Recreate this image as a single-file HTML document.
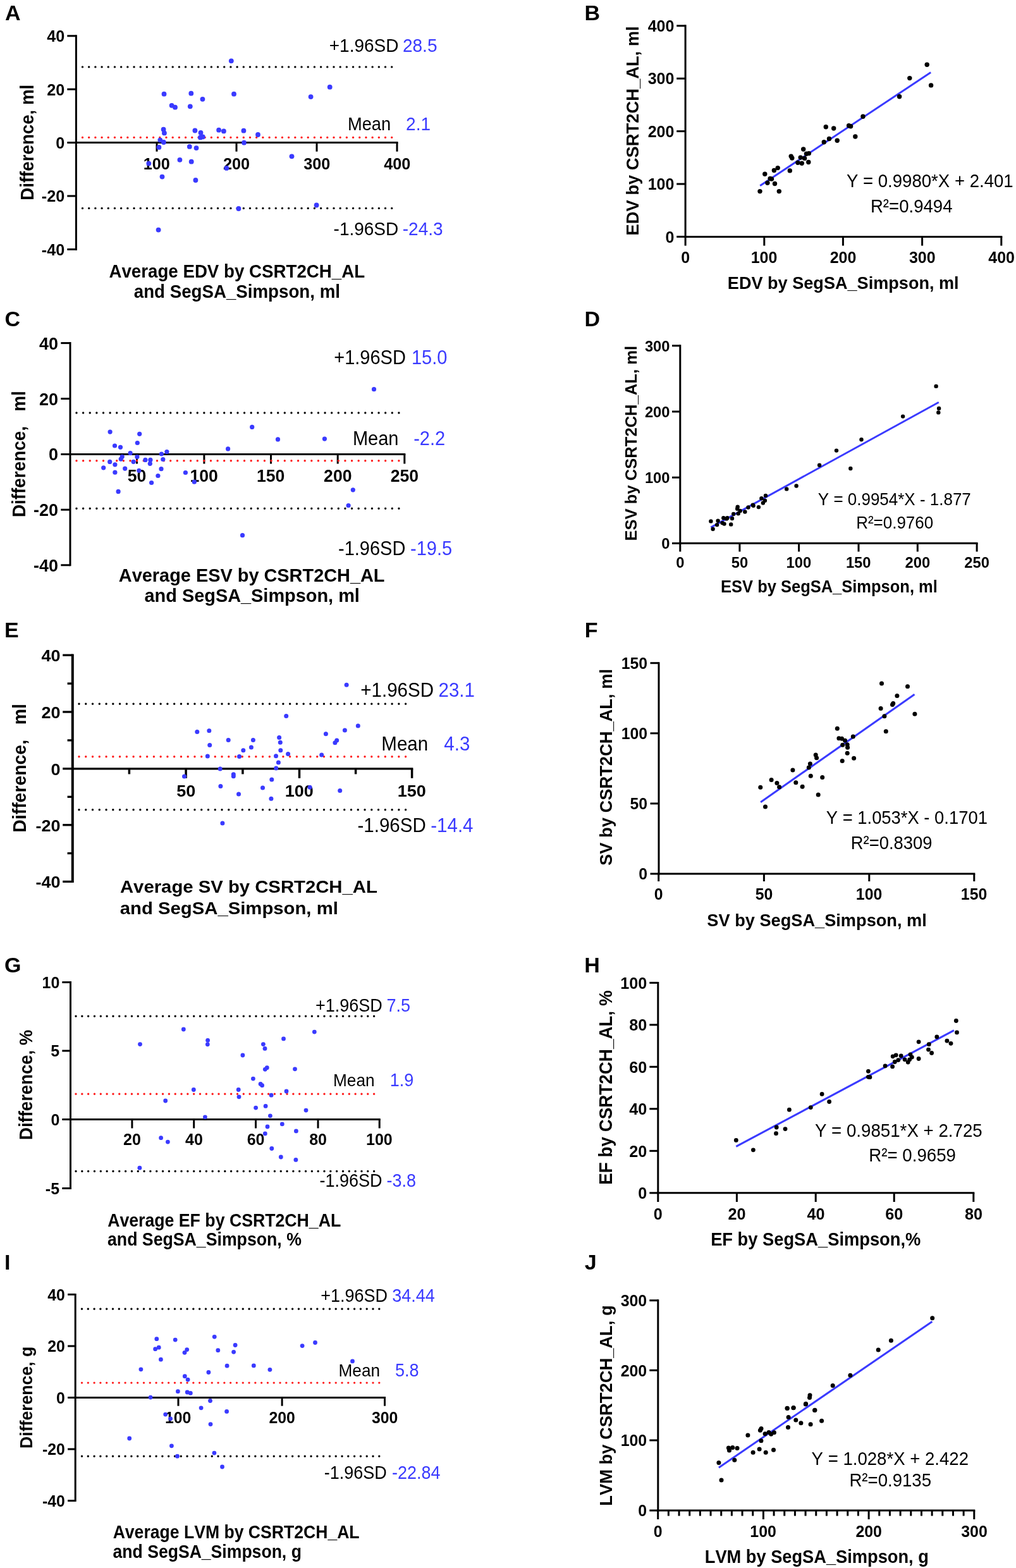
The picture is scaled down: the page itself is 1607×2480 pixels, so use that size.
<!DOCTYPE html>
<html><head><meta charset="utf-8"><title>Bland-Altman and regression plots</title>
<style>html,body{margin:0;padding:0;background:#fff;width:1607px;height:2480px;overflow:hidden}svg{display:block}text{font-kerning:none;white-space:pre}</style>
</head><body>
<svg width="1607" height="2480" viewBox="0 0 1607 2480" font-family="Liberation Sans, Arial, Helvetica, sans-serif">
<rect width="1607" height="2480" fill="#fff"/>
<text x="7.95" y="31.80" font-size="34" font-weight="bold" text-anchor="start" fill="#000">A</text>
<line x1="106.30" y1="56.80" x2="120.40" y2="56.80" stroke="#000" stroke-width="3" stroke-linecap="butt"/>
<text x="102.23" y="66.12" font-size="25.2" font-weight="bold" text-anchor="end" fill="#000" transform="matrix(1 0 0 1.0100 0 -0.661)">40</text>
<line x1="106.30" y1="141.20" x2="120.40" y2="141.20" stroke="#000" stroke-width="3" stroke-linecap="butt"/>
<text x="102.23" y="150.52" font-size="25.2" font-weight="bold" text-anchor="end" fill="#000" transform="matrix(1 0 0 1.0100 0 -1.505)">20</text>
<line x1="106.30" y1="225.60" x2="120.40" y2="225.60" stroke="#000" stroke-width="3" stroke-linecap="butt"/>
<text x="102.23" y="234.92" font-size="25.2" font-weight="bold" text-anchor="end" fill="#000" transform="matrix(1 0 0 1.0100 0 -2.349)">0</text>
<line x1="106.30" y1="310.00" x2="120.40" y2="310.00" stroke="#000" stroke-width="3" stroke-linecap="butt"/>
<text x="102.23" y="319.32" font-size="25.2" font-weight="bold" text-anchor="end" fill="#000" transform="matrix(1 0 0 1.0100 0 -3.193)">-20</text>
<line x1="106.30" y1="394.40" x2="120.40" y2="394.40" stroke="#000" stroke-width="3" stroke-linecap="butt"/>
<text x="102.23" y="403.72" font-size="25.2" font-weight="bold" text-anchor="end" fill="#000" transform="matrix(1 0 0 1.0100 0 -4.037)">-40</text>
<line x1="120.40" y1="55.30" x2="120.40" y2="395.90" stroke="#000" stroke-width="3" stroke-linecap="butt"/>
<line x1="118.90" y1="225.60" x2="629.50" y2="225.60" stroke="#000" stroke-width="3" stroke-linecap="butt"/>
<line x1="248.00" y1="225.60" x2="248.00" y2="239.70" stroke="#000" stroke-width="3" stroke-linecap="butt"/>
<text x="247.72" y="268.20" font-size="25.2" font-weight="bold" text-anchor="middle" fill="#000" transform="matrix(1 0 0 1.0100 0 -2.682)">100</text>
<line x1="374.00" y1="225.60" x2="374.00" y2="239.70" stroke="#000" stroke-width="3" stroke-linecap="butt"/>
<text x="374.08" y="268.20" font-size="25.2" font-weight="bold" text-anchor="middle" fill="#000" transform="matrix(1 0 0 1.0100 0 -2.682)">200</text>
<line x1="501.00" y1="225.60" x2="501.00" y2="239.70" stroke="#000" stroke-width="3" stroke-linecap="butt"/>
<text x="501.23" y="268.20" font-size="25.2" font-weight="bold" text-anchor="middle" fill="#000" transform="matrix(1 0 0 1.0100 0 -2.682)">300</text>
<line x1="628.00" y1="225.60" x2="628.00" y2="239.70" stroke="#000" stroke-width="3" stroke-linecap="butt"/>
<text x="628.33" y="268.20" font-size="25.2" font-weight="bold" text-anchor="middle" fill="#000" transform="matrix(1 0 0 1.0100 0 -2.682)">400</text>
<path d="M130.50 105.90h0M140.69 105.90h0M150.88 105.90h0M161.07 105.90h0M171.27 105.90h0M181.46 105.90h0M191.65 105.90h0M201.84 105.90h0M212.03 105.90h0M222.23 105.90h0M232.42 105.90h0M242.61 105.90h0M252.80 105.90h0M262.99 105.90h0M273.18 105.90h0M283.38 105.90h0M293.57 105.90h0M303.76 105.90h0M313.95 105.90h0M324.14 105.90h0M334.33 105.90h0M344.53 105.90h0M354.72 105.90h0M364.91 105.90h0M375.10 105.90h0M385.29 105.90h0M395.48 105.90h0M405.68 105.90h0M415.87 105.90h0M426.06 105.90h0M436.25 105.90h0M446.44 105.90h0M456.63 105.90h0M466.83 105.90h0M477.02 105.90h0M487.21 105.90h0M497.40 105.90h0M507.59 105.90h0M517.78 105.90h0M527.98 105.90h0M538.17 105.90h0M548.36 105.90h0M558.55 105.90h0M568.74 105.90h0M578.93 105.90h0M589.12 105.90h0M599.32 105.90h0M609.51 105.90h0M619.70 105.90h0" stroke="#000" stroke-width="3.4" stroke-linecap="round" fill="none"/>
<path d="M130.50 217.40h0M140.69 217.40h0M150.88 217.40h0M161.07 217.40h0M171.27 217.40h0M181.46 217.40h0M191.65 217.40h0M201.84 217.40h0M212.03 217.40h0M222.23 217.40h0M232.42 217.40h0M242.61 217.40h0M252.80 217.40h0M262.99 217.40h0M273.18 217.40h0M283.38 217.40h0M293.57 217.40h0M303.76 217.40h0M313.95 217.40h0M324.14 217.40h0M334.33 217.40h0M344.53 217.40h0M354.72 217.40h0M364.91 217.40h0M375.10 217.40h0M385.29 217.40h0M395.48 217.40h0M405.68 217.40h0M415.87 217.40h0M426.06 217.40h0M436.25 217.40h0M446.44 217.40h0M456.63 217.40h0M466.83 217.40h0M477.02 217.40h0M487.21 217.40h0M497.40 217.40h0M507.59 217.40h0M517.78 217.40h0M527.98 217.40h0M538.17 217.40h0M548.36 217.40h0M558.55 217.40h0M568.74 217.40h0M578.93 217.40h0M589.12 217.40h0M599.32 217.40h0M609.51 217.40h0M619.70 217.40h0" stroke="#ff1a1a" stroke-width="3.4" stroke-linecap="round" fill="none"/>
<path d="M130.50 329.40h0M140.69 329.40h0M150.88 329.40h0M161.07 329.40h0M171.27 329.40h0M181.46 329.40h0M191.65 329.40h0M201.84 329.40h0M212.03 329.40h0M222.23 329.40h0M232.42 329.40h0M242.61 329.40h0M252.80 329.40h0M262.99 329.40h0M273.18 329.40h0M283.38 329.40h0M293.57 329.40h0M303.76 329.40h0M313.95 329.40h0M324.14 329.40h0M334.33 329.40h0M344.53 329.40h0M354.72 329.40h0M364.91 329.40h0M375.10 329.40h0M385.29 329.40h0M395.48 329.40h0M405.68 329.40h0M415.87 329.40h0M426.06 329.40h0M436.25 329.40h0M446.44 329.40h0M456.63 329.40h0M466.83 329.40h0M477.02 329.40h0M487.21 329.40h0M497.40 329.40h0M507.59 329.40h0M517.78 329.40h0M527.98 329.40h0M538.17 329.40h0M548.36 329.40h0M558.55 329.40h0M568.74 329.40h0M578.93 329.40h0M589.12 329.40h0M599.32 329.40h0M609.51 329.40h0M619.70 329.40h0" stroke="#000" stroke-width="3.4" stroke-linecap="round" fill="none"/>
<text x="520.73" y="82.30" font-size="28" text-anchor="start" fill="#000" transform="matrix(1 0 0 1.0850 0 -6.995)">+1.96SD</text>
<text x="636.99" y="82.30" font-size="28" text-anchor="start" fill="#3a3aff" transform="matrix(1 0 0 1.0850 0 -6.995)">28.5</text>
<text x="549.96" y="205.70" font-size="27.3" text-anchor="start" fill="#000" transform="matrix(1 0 0 1.0850 0 -17.484)">Mean</text>
<text x="642.09" y="205.70" font-size="28" text-anchor="start" fill="#3a3aff" transform="matrix(1 0 0 1.0850 0 -17.484)">2.1</text>
<text x="527.56" y="372.50" font-size="28" text-anchor="start" fill="#000" transform="matrix(1 0 0 1.0850 0 -31.662)">-1.96SD</text>
<text x="636.76" y="372.50" font-size="28" text-anchor="start" fill="#3a3aff" transform="matrix(1 0 0 1.0850 0 -31.662)">-24.3</text>
<text x="374.78" y="438.70" font-size="27.7" font-weight="bold" text-anchor="middle" fill="#000" transform="matrix(1 0 0 1.0850 0 -37.289)">Average EDV by CSRT2CH_AL</text>
<text x="374.87" y="470.90" font-size="27.7" font-weight="bold" text-anchor="middle" fill="#000" transform="matrix(1 0 0 1.0850 0 -40.026)">and SegSA_Simpson, ml</text>
<text x="53.40" y="225.25" font-size="27.7" font-weight="bold" text-anchor="middle" fill="#000" transform="rotate(-90 53.40 225.25) matrix(1 0 0 1.0700 0 -15.767)">Difference, ml</text>
<circle cx="365.80" cy="96.30" r="3.9" fill="#3a3aff"/>
<circle cx="259.50" cy="148.70" r="3.9" fill="#3a3aff"/>
<circle cx="302.30" cy="147.70" r="3.9" fill="#3a3aff"/>
<circle cx="370.00" cy="148.70" r="3.9" fill="#3a3aff"/>
<circle cx="320.40" cy="156.80" r="3.9" fill="#3a3aff"/>
<circle cx="271.60" cy="166.80" r="3.9" fill="#3a3aff"/>
<circle cx="277.00" cy="169.70" r="3.9" fill="#3a3aff"/>
<circle cx="300.80" cy="168.30" r="3.9" fill="#3a3aff"/>
<circle cx="258.60" cy="204.70" r="3.9" fill="#3a3aff"/>
<circle cx="259.90" cy="210.40" r="3.9" fill="#3a3aff"/>
<circle cx="308.40" cy="206.50" r="3.9" fill="#3a3aff"/>
<circle cx="317.50" cy="210.00" r="3.9" fill="#3a3aff"/>
<circle cx="346.10" cy="205.70" r="3.9" fill="#3a3aff"/>
<circle cx="353.90" cy="207.40" r="3.9" fill="#3a3aff"/>
<circle cx="385.40" cy="206.70" r="3.9" fill="#3a3aff"/>
<circle cx="316.90" cy="217.40" r="3.9" fill="#3a3aff"/>
<circle cx="320.80" cy="216.40" r="3.9" fill="#3a3aff"/>
<circle cx="253.30" cy="221.60" r="3.9" fill="#3a3aff"/>
<circle cx="258.90" cy="225.00" r="3.9" fill="#3a3aff"/>
<circle cx="386.00" cy="225.70" r="3.9" fill="#3a3aff"/>
<circle cx="251.40" cy="232.90" r="3.9" fill="#3a3aff"/>
<circle cx="299.80" cy="231.90" r="3.9" fill="#3a3aff"/>
<circle cx="310.50" cy="234.10" r="3.9" fill="#3a3aff"/>
<circle cx="284.40" cy="252.80" r="3.9" fill="#3a3aff"/>
<circle cx="302.70" cy="255.70" r="3.9" fill="#3a3aff"/>
<circle cx="521.70" cy="137.70" r="3.9" fill="#3a3aff"/>
<circle cx="491.60" cy="153.10" r="3.9" fill="#3a3aff"/>
<circle cx="408.00" cy="213.00" r="3.9" fill="#3a3aff"/>
<circle cx="461.50" cy="247.30" r="3.9" fill="#3a3aff"/>
<circle cx="500.60" cy="324.50" r="3.9" fill="#3a3aff"/>
<circle cx="235.30" cy="258.60" r="3.9" fill="#3a3aff"/>
<circle cx="358.30" cy="265.90" r="3.9" fill="#3a3aff"/>
<circle cx="256.50" cy="279.60" r="3.9" fill="#3a3aff"/>
<circle cx="309.40" cy="285.00" r="3.9" fill="#3a3aff"/>
<circle cx="377.40" cy="330.00" r="3.9" fill="#3a3aff"/>
<circle cx="250.60" cy="363.60" r="3.9" fill="#3a3aff"/>
<text x="924.53" y="31.70" font-size="34" font-weight="bold" text-anchor="start" fill="#000">B</text>
<line x1="1070.20" y1="374.40" x2="1084.10" y2="374.40" stroke="#000" stroke-width="3" stroke-linecap="butt"/>
<text x="1066.33" y="383.65" font-size="25" font-weight="bold" text-anchor="end" fill="#000" transform="matrix(1 0 0 1.0300 0 -11.510)">0</text>
<line x1="1070.20" y1="291.00" x2="1084.10" y2="291.00" stroke="#000" stroke-width="3" stroke-linecap="butt"/>
<text x="1066.33" y="300.25" font-size="25" font-weight="bold" text-anchor="end" fill="#000" transform="matrix(1 0 0 1.0300 0 -9.008)">100</text>
<line x1="1070.20" y1="207.60" x2="1084.10" y2="207.60" stroke="#000" stroke-width="3" stroke-linecap="butt"/>
<text x="1066.33" y="216.85" font-size="25" font-weight="bold" text-anchor="end" fill="#000" transform="matrix(1 0 0 1.0300 0 -6.506)">200</text>
<line x1="1070.20" y1="124.20" x2="1084.10" y2="124.20" stroke="#000" stroke-width="3" stroke-linecap="butt"/>
<text x="1066.33" y="133.45" font-size="25" font-weight="bold" text-anchor="end" fill="#000" transform="matrix(1 0 0 1.0300 0 -4.004)">300</text>
<line x1="1070.20" y1="40.80" x2="1084.10" y2="40.80" stroke="#000" stroke-width="3" stroke-linecap="butt"/>
<text x="1066.33" y="50.05" font-size="25" font-weight="bold" text-anchor="end" fill="#000" transform="matrix(1 0 0 1.0300 0 -1.502)">400</text>
<line x1="1084.10" y1="39.30" x2="1084.10" y2="375.90" stroke="#000" stroke-width="3" stroke-linecap="butt"/>
<line x1="1082.60" y1="374.40" x2="1585.30" y2="374.40" stroke="#000" stroke-width="3" stroke-linecap="butt"/>
<line x1="1084.10" y1="374.40" x2="1084.10" y2="388.60" stroke="#000" stroke-width="3" stroke-linecap="butt"/>
<text x="1084.12" y="415.60" font-size="25" font-weight="bold" text-anchor="middle" fill="#000" transform="matrix(1 0 0 1.0300 0 -12.468)">0</text>
<line x1="1208.80" y1="374.40" x2="1208.80" y2="388.60" stroke="#000" stroke-width="3" stroke-linecap="butt"/>
<text x="1208.53" y="415.60" font-size="25" font-weight="bold" text-anchor="middle" fill="#000" transform="matrix(1 0 0 1.0300 0 -12.468)">100</text>
<line x1="1333.40" y1="374.40" x2="1333.40" y2="388.60" stroke="#000" stroke-width="3" stroke-linecap="butt"/>
<text x="1333.48" y="415.60" font-size="25" font-weight="bold" text-anchor="middle" fill="#000" transform="matrix(1 0 0 1.0300 0 -12.468)">200</text>
<line x1="1458.60" y1="374.40" x2="1458.60" y2="388.60" stroke="#000" stroke-width="3" stroke-linecap="butt"/>
<text x="1458.83" y="415.60" font-size="25" font-weight="bold" text-anchor="middle" fill="#000" transform="matrix(1 0 0 1.0300 0 -12.468)">300</text>
<line x1="1583.80" y1="374.40" x2="1583.80" y2="388.60" stroke="#000" stroke-width="3" stroke-linecap="butt"/>
<text x="1584.12" y="415.60" font-size="25" font-weight="bold" text-anchor="middle" fill="#000" transform="matrix(1 0 0 1.0300 0 -12.468)">400</text>
<text x="1333.75" y="456.80" font-size="27.1" font-weight="bold" text-anchor="middle" fill="#000" transform="matrix(1 0 0 1.0470 0 -21.470)">EDV by SegSA_Simpson, ml</text>
<text x="1009.90" y="206.85" font-size="27.35" font-weight="bold" text-anchor="middle" fill="#000" transform="rotate(-90 1009.90 206.85) matrix(1 0 0 1.0400 0 -8.274)">EDV by CSRT2CH_AL, ml</text>
<line x1="1202.20" y1="293.80" x2="1472.20" y2="114.60" stroke="#3a3aff" stroke-width="3" stroke-linecap="butt"/>
<circle cx="1202.00" cy="302.60" r="3.7" fill="#000"/>
<circle cx="1232.30" cy="302.60" r="3.7" fill="#000"/>
<circle cx="1213.90" cy="289.30" r="3.7" fill="#000"/>
<circle cx="1225.50" cy="290.50" r="3.7" fill="#000"/>
<circle cx="1218.10" cy="282.50" r="3.7" fill="#000"/>
<circle cx="1220.50" cy="283.10" r="3.7" fill="#000"/>
<circle cx="1209.80" cy="275.30" r="3.7" fill="#000"/>
<circle cx="1224.40" cy="269.50" r="3.7" fill="#000"/>
<circle cx="1230.20" cy="265.60" r="3.7" fill="#000"/>
<circle cx="1249.30" cy="269.90" r="3.7" fill="#000"/>
<circle cx="1251.20" cy="247.10" r="3.7" fill="#000"/>
<circle cx="1252.80" cy="250.00" r="3.7" fill="#000"/>
<circle cx="1261.90" cy="257.20" r="3.7" fill="#000"/>
<circle cx="1268.30" cy="258.20" r="3.7" fill="#000"/>
<circle cx="1266.20" cy="249.10" r="3.7" fill="#000"/>
<circle cx="1272.60" cy="250.40" r="3.7" fill="#000"/>
<circle cx="1278.80" cy="256.50" r="3.7" fill="#000"/>
<circle cx="1275.50" cy="243.20" r="3.7" fill="#000"/>
<circle cx="1279.40" cy="242.60" r="3.7" fill="#000"/>
<circle cx="1270.70" cy="236.00" r="3.7" fill="#000"/>
<circle cx="1303.30" cy="224.70" r="3.7" fill="#000"/>
<circle cx="1311.50" cy="219.50" r="3.7" fill="#000"/>
<circle cx="1324.20" cy="222.20" r="3.7" fill="#000"/>
<circle cx="1306.30" cy="200.80" r="3.7" fill="#000"/>
<circle cx="1318.70" cy="203.00" r="3.7" fill="#000"/>
<circle cx="1342.60" cy="198.70" r="3.7" fill="#000"/>
<circle cx="1345.60" cy="199.80" r="3.7" fill="#000"/>
<circle cx="1352.80" cy="216.00" r="3.7" fill="#000"/>
<circle cx="1365.00" cy="184.30" r="3.7" fill="#000"/>
<circle cx="1466.20" cy="102.30" r="3.7" fill="#000"/>
<circle cx="1438.80" cy="123.60" r="3.7" fill="#000"/>
<circle cx="1472.60" cy="134.90" r="3.7" fill="#000"/>
<circle cx="1422.60" cy="152.80" r="3.7" fill="#000"/>
<text x="1338.89" y="296.10" font-size="27.6" text-anchor="start" fill="#000" transform="matrix(1 0 0 1.0850 0 -25.168)">Y = 0.9980*X + 2.401</text>
<text x="1376.94" y="335.80" font-size="27.6" text-anchor="start" fill="#000" transform="matrix(1 0 0 1.0850 0 -28.543)">R²=0.9494</text>
<text x="7.41" y="516.00" font-size="34" font-weight="bold" text-anchor="start" fill="#000">C</text>
<line x1="96.30" y1="542.60" x2="111.00" y2="542.60" stroke="#000" stroke-width="3" stroke-linecap="butt"/>
<text x="92.11" y="552.57" font-size="27" font-weight="bold" text-anchor="end" fill="#000" transform="matrix(1 0 0 1.0200 0 -11.051)">40</text>
<line x1="96.30" y1="630.60" x2="111.00" y2="630.60" stroke="#000" stroke-width="3" stroke-linecap="butt"/>
<text x="92.11" y="640.57" font-size="27" font-weight="bold" text-anchor="end" fill="#000" transform="matrix(1 0 0 1.0200 0 -12.811)">20</text>
<line x1="96.30" y1="718.50" x2="111.00" y2="718.50" stroke="#000" stroke-width="3" stroke-linecap="butt"/>
<text x="92.11" y="728.47" font-size="27" font-weight="bold" text-anchor="end" fill="#000" transform="matrix(1 0 0 1.0200 0 -14.569)">0</text>
<line x1="96.30" y1="806.20" x2="111.00" y2="806.20" stroke="#000" stroke-width="3" stroke-linecap="butt"/>
<text x="92.11" y="816.17" font-size="27" font-weight="bold" text-anchor="end" fill="#000" transform="matrix(1 0 0 1.0200 0 -16.323)">-20</text>
<line x1="96.30" y1="893.80" x2="111.00" y2="893.80" stroke="#000" stroke-width="3" stroke-linecap="butt"/>
<text x="92.11" y="903.77" font-size="27" font-weight="bold" text-anchor="end" fill="#000" transform="matrix(1 0 0 1.0200 0 -18.075)">-40</text>
<line x1="111.00" y1="541.10" x2="111.00" y2="895.30" stroke="#000" stroke-width="3" stroke-linecap="butt"/>
<line x1="109.50" y1="718.50" x2="641.30" y2="718.50" stroke="#000" stroke-width="3" stroke-linecap="butt"/>
<line x1="216.50" y1="718.50" x2="216.50" y2="733.50" stroke="#000" stroke-width="3" stroke-linecap="butt"/>
<text x="216.64" y="762.50" font-size="26.6" font-weight="bold" text-anchor="middle" fill="#000" transform="matrix(1 0 0 1.0200 0 -15.250)">50</text>
<line x1="322.90" y1="718.50" x2="322.90" y2="733.50" stroke="#000" stroke-width="3" stroke-linecap="butt"/>
<text x="322.61" y="762.50" font-size="26.6" font-weight="bold" text-anchor="middle" fill="#000" transform="matrix(1 0 0 1.0200 0 -15.250)">100</text>
<line x1="428.50" y1="718.50" x2="428.50" y2="733.50" stroke="#000" stroke-width="3" stroke-linecap="butt"/>
<text x="428.21" y="762.50" font-size="26.6" font-weight="bold" text-anchor="middle" fill="#000" transform="matrix(1 0 0 1.0200 0 -15.250)">150</text>
<line x1="534.20" y1="718.50" x2="534.20" y2="733.50" stroke="#000" stroke-width="3" stroke-linecap="butt"/>
<text x="534.28" y="762.50" font-size="26.6" font-weight="bold" text-anchor="middle" fill="#000" transform="matrix(1 0 0 1.0200 0 -15.250)">200</text>
<line x1="639.80" y1="718.50" x2="639.80" y2="733.50" stroke="#000" stroke-width="3" stroke-linecap="butt"/>
<text x="639.88" y="762.50" font-size="26.6" font-weight="bold" text-anchor="middle" fill="#000" transform="matrix(1 0 0 1.0200 0 -15.250)">250</text>
<path d="M121.00 653.00h0M131.62 653.00h0M142.25 653.00h0M152.87 653.00h0M163.49 653.00h0M174.11 653.00h0M184.74 653.00h0M195.36 653.00h0M205.98 653.00h0M216.61 653.00h0M227.23 653.00h0M237.85 653.00h0M248.47 653.00h0M259.10 653.00h0M269.72 653.00h0M280.34 653.00h0M290.97 653.00h0M301.59 653.00h0M312.21 653.00h0M322.84 653.00h0M333.46 653.00h0M344.08 653.00h0M354.70 653.00h0M365.33 653.00h0M375.95 653.00h0M386.57 653.00h0M397.20 653.00h0M407.82 653.00h0M418.44 653.00h0M429.06 653.00h0M439.69 653.00h0M450.31 653.00h0M460.93 653.00h0M471.56 653.00h0M482.18 653.00h0M492.80 653.00h0M503.43 653.00h0M514.05 653.00h0M524.67 653.00h0M535.29 653.00h0M545.92 653.00h0M556.54 653.00h0M567.16 653.00h0M577.79 653.00h0M588.41 653.00h0M599.03 653.00h0M609.65 653.00h0M620.28 653.00h0M630.90 653.00h0" stroke="#000" stroke-width="3.4" stroke-linecap="round" fill="none"/>
<path d="M121.00 728.80h0M131.62 728.80h0M142.25 728.80h0M152.87 728.80h0M163.49 728.80h0M174.11 728.80h0M184.74 728.80h0M195.36 728.80h0M205.98 728.80h0M216.61 728.80h0M227.23 728.80h0M237.85 728.80h0M248.47 728.80h0M259.10 728.80h0M269.72 728.80h0M280.34 728.80h0M290.97 728.80h0M301.59 728.80h0M312.21 728.80h0M322.84 728.80h0M333.46 728.80h0M344.08 728.80h0M354.70 728.80h0M365.33 728.80h0M375.95 728.80h0M386.57 728.80h0M397.20 728.80h0M407.82 728.80h0M418.44 728.80h0M429.06 728.80h0M439.69 728.80h0M450.31 728.80h0M460.93 728.80h0M471.56 728.80h0M482.18 728.80h0M492.80 728.80h0M503.43 728.80h0M514.05 728.80h0M524.67 728.80h0M535.29 728.80h0M545.92 728.80h0M556.54 728.80h0M567.16 728.80h0M577.79 728.80h0M588.41 728.80h0M599.03 728.80h0M609.65 728.80h0M620.28 728.80h0M630.90 728.80h0" stroke="#ff1a1a" stroke-width="3.4" stroke-linecap="round" fill="none"/>
<path d="M121.00 804.30h0M131.62 804.30h0M142.25 804.30h0M152.87 804.30h0M163.49 804.30h0M174.11 804.30h0M184.74 804.30h0M195.36 804.30h0M205.98 804.30h0M216.61 804.30h0M227.23 804.30h0M237.85 804.30h0M248.47 804.30h0M259.10 804.30h0M269.72 804.30h0M280.34 804.30h0M290.97 804.30h0M301.59 804.30h0M312.21 804.30h0M322.84 804.30h0M333.46 804.30h0M344.08 804.30h0M354.70 804.30h0M365.33 804.30h0M375.95 804.30h0M386.57 804.30h0M397.20 804.30h0M407.82 804.30h0M418.44 804.30h0M429.06 804.30h0M439.69 804.30h0M450.31 804.30h0M460.93 804.30h0M471.56 804.30h0M482.18 804.30h0M492.80 804.30h0M503.43 804.30h0M514.05 804.30h0M524.67 804.30h0M535.29 804.30h0M545.92 804.30h0M556.54 804.30h0M567.16 804.30h0M577.79 804.30h0M588.41 804.30h0M599.03 804.30h0M609.65 804.30h0M620.28 804.30h0M630.90 804.30h0" stroke="#000" stroke-width="3.4" stroke-linecap="round" fill="none"/>
<text x="528.28" y="576.50" font-size="29" text-anchor="start" fill="#000" transform="matrix(1 0 0 1.0500 0 -28.825)">+1.96SD</text>
<text x="650.89" y="576.50" font-size="29" text-anchor="start" fill="#3a3aff" transform="matrix(1 0 0 1.0500 0 -28.825)">15.0</text>
<text x="557.92" y="704.40" font-size="29" text-anchor="start" fill="#000" transform="matrix(1 0 0 1.0500 0 -35.220)">Mean</text>
<text x="654.21" y="704.40" font-size="29" text-anchor="start" fill="#3a3aff" transform="matrix(1 0 0 1.0500 0 -35.220)">-2.2</text>
<text x="535.01" y="877.60" font-size="29" text-anchor="start" fill="#000" transform="matrix(1 0 0 1.0500 0 -43.880)">-1.96SD</text>
<text x="649.01" y="877.60" font-size="29" text-anchor="start" fill="#3a3aff" transform="matrix(1 0 0 1.0500 0 -43.880)">-19.5</text>
<text x="398.18" y="919.90" font-size="28.9" font-weight="bold" text-anchor="middle" fill="#000" transform="matrix(1 0 0 1.0500 0 -45.995)">Average ESV by CSRT2CH_AL</text>
<text x="398.70" y="952.40" font-size="28.9" font-weight="bold" text-anchor="middle" fill="#000" transform="matrix(1 0 0 1.0500 0 -47.620)">and SegSA_Simpson, ml</text>
<text x="40.00" y="718.15" font-size="27.9" font-weight="bold" text-anchor="middle" fill="#000" transform="rotate(-90 40.00 718.15) matrix(1 0 0 1.0400 0 -28.726)">Difference,   ml</text>
<circle cx="174.10" cy="683.10" r="3.6" fill="#3a3aff"/>
<circle cx="220.70" cy="686.30" r="3.6" fill="#3a3aff"/>
<circle cx="217.30" cy="700.50" r="3.6" fill="#3a3aff"/>
<circle cx="181.50" cy="705.00" r="3.6" fill="#3a3aff"/>
<circle cx="190.50" cy="707.30" r="3.6" fill="#3a3aff"/>
<circle cx="206.10" cy="716.70" r="3.6" fill="#3a3aff"/>
<circle cx="263.90" cy="714.50" r="3.6" fill="#3a3aff"/>
<circle cx="255.40" cy="718.00" r="3.6" fill="#3a3aff"/>
<circle cx="193.20" cy="722.30" r="3.6" fill="#3a3aff"/>
<circle cx="191.20" cy="726.10" r="3.6" fill="#3a3aff"/>
<circle cx="216.90" cy="722.50" r="3.6" fill="#3a3aff"/>
<circle cx="211.10" cy="730.30" r="3.6" fill="#3a3aff"/>
<circle cx="173.70" cy="730.40" r="3.6" fill="#3a3aff"/>
<circle cx="181.90" cy="734.80" r="3.6" fill="#3a3aff"/>
<circle cx="229.90" cy="727.40" r="3.6" fill="#3a3aff"/>
<circle cx="237.90" cy="727.40" r="3.6" fill="#3a3aff"/>
<circle cx="237.30" cy="733.30" r="3.6" fill="#3a3aff"/>
<circle cx="257.80" cy="726.50" r="3.6" fill="#3a3aff"/>
<circle cx="163.70" cy="739.80" r="3.6" fill="#3a3aff"/>
<circle cx="197.70" cy="741.10" r="3.6" fill="#3a3aff"/>
<circle cx="219.80" cy="744.30" r="3.6" fill="#3a3aff"/>
<circle cx="255.00" cy="741.70" r="3.6" fill="#3a3aff"/>
<circle cx="181.90" cy="747.20" r="3.6" fill="#3a3aff"/>
<circle cx="249.90" cy="752.50" r="3.6" fill="#3a3aff"/>
<circle cx="239.60" cy="763.50" r="3.6" fill="#3a3aff"/>
<circle cx="187.10" cy="777.40" r="3.6" fill="#3a3aff"/>
<circle cx="293.40" cy="747.50" r="3.6" fill="#3a3aff"/>
<circle cx="307.30" cy="762.20" r="3.6" fill="#3a3aff"/>
<circle cx="591.50" cy="615.70" r="3.6" fill="#3a3aff"/>
<circle cx="398.70" cy="675.40" r="3.6" fill="#3a3aff"/>
<circle cx="439.50" cy="694.90" r="3.6" fill="#3a3aff"/>
<circle cx="513.40" cy="694.10" r="3.6" fill="#3a3aff"/>
<circle cx="360.60" cy="709.90" r="3.6" fill="#3a3aff"/>
<circle cx="558.30" cy="774.80" r="3.6" fill="#3a3aff"/>
<circle cx="551.10" cy="799.50" r="3.6" fill="#3a3aff"/>
<circle cx="383.50" cy="846.70" r="3.6" fill="#3a3aff"/>
<text x="924.53" y="516.00" font-size="34" font-weight="bold" text-anchor="start" fill="#000">D</text>
<line x1="1063.00" y1="859.30" x2="1075.80" y2="859.30" stroke="#000" stroke-width="3" stroke-linecap="butt"/>
<text x="1059.58" y="868.12" font-size="23.8" font-weight="bold" text-anchor="end" fill="#000" transform="matrix(1 0 0 1.0200 0 -17.362)">0</text>
<line x1="1063.00" y1="755.20" x2="1075.80" y2="755.20" stroke="#000" stroke-width="3" stroke-linecap="butt"/>
<text x="1059.58" y="764.02" font-size="23.8" font-weight="bold" text-anchor="end" fill="#000" transform="matrix(1 0 0 1.0200 0 -15.280)">100</text>
<line x1="1063.00" y1="651.00" x2="1075.80" y2="651.00" stroke="#000" stroke-width="3" stroke-linecap="butt"/>
<text x="1059.58" y="659.82" font-size="23.8" font-weight="bold" text-anchor="end" fill="#000" transform="matrix(1 0 0 1.0200 0 -13.196)">200</text>
<line x1="1063.00" y1="546.80" x2="1075.80" y2="546.80" stroke="#000" stroke-width="3" stroke-linecap="butt"/>
<text x="1059.58" y="555.62" font-size="23.8" font-weight="bold" text-anchor="end" fill="#000" transform="matrix(1 0 0 1.0200 0 -11.112)">300</text>
<line x1="1075.80" y1="545.30" x2="1075.80" y2="860.80" stroke="#000" stroke-width="3" stroke-linecap="butt"/>
<line x1="1074.30" y1="859.30" x2="1546.60" y2="859.30" stroke="#000" stroke-width="3" stroke-linecap="butt"/>
<line x1="1075.80" y1="859.30" x2="1075.80" y2="872.50" stroke="#000" stroke-width="3" stroke-linecap="butt"/>
<text x="1075.82" y="898.50" font-size="23.8" font-weight="bold" text-anchor="middle" fill="#000" transform="matrix(1 0 0 1.0200 0 -17.970)">0</text>
<line x1="1169.90" y1="859.30" x2="1169.90" y2="872.50" stroke="#000" stroke-width="3" stroke-linecap="butt"/>
<text x="1170.02" y="898.50" font-size="23.8" font-weight="bold" text-anchor="middle" fill="#000" transform="matrix(1 0 0 1.0200 0 -17.970)">50</text>
<line x1="1263.60" y1="859.30" x2="1263.60" y2="872.50" stroke="#000" stroke-width="3" stroke-linecap="butt"/>
<text x="1263.34" y="898.50" font-size="23.8" font-weight="bold" text-anchor="middle" fill="#000" transform="matrix(1 0 0 1.0200 0 -17.970)">100</text>
<line x1="1358.00" y1="859.30" x2="1358.00" y2="872.50" stroke="#000" stroke-width="3" stroke-linecap="butt"/>
<text x="1357.74" y="898.50" font-size="23.8" font-weight="bold" text-anchor="middle" fill="#000" transform="matrix(1 0 0 1.0200 0 -17.970)">150</text>
<line x1="1451.30" y1="859.30" x2="1451.30" y2="872.50" stroke="#000" stroke-width="3" stroke-linecap="butt"/>
<text x="1451.38" y="898.50" font-size="23.8" font-weight="bold" text-anchor="middle" fill="#000" transform="matrix(1 0 0 1.0200 0 -17.970)">200</text>
<line x1="1545.10" y1="859.30" x2="1545.10" y2="872.50" stroke="#000" stroke-width="3" stroke-linecap="butt"/>
<text x="1545.18" y="898.50" font-size="23.8" font-weight="bold" text-anchor="middle" fill="#000" transform="matrix(1 0 0 1.0200 0 -17.970)">250</text>
<text x="1311.45" y="937.20" font-size="25.5" font-weight="bold" text-anchor="middle" fill="#000" transform="matrix(1 0 0 1.0700 0 -65.604)">ESV by SegSA_Simpson, ml</text>
<text x="1007.00" y="701.25" font-size="25.6" font-weight="bold" text-anchor="middle" fill="#000" transform="rotate(-90 1007.00 701.25) matrix(1 0 0 1.0400 0 -28.050)">ESV by CSRT2CH_AL, ml</text>
<line x1="1124.40" y1="834.10" x2="1484.80" y2="636.20" stroke="#3a3aff" stroke-width="3" stroke-linecap="butt"/>
<circle cx="1124.40" cy="824.40" r="3.2" fill="#000"/>
<circle cx="1127.60" cy="836.80" r="3.2" fill="#000"/>
<circle cx="1135.60" cy="823.70" r="3.2" fill="#000"/>
<circle cx="1134.10" cy="830.10" r="3.2" fill="#000"/>
<circle cx="1142.50" cy="827.10" r="3.2" fill="#000"/>
<circle cx="1145.50" cy="828.60" r="3.2" fill="#000"/>
<circle cx="1144.30" cy="819.20" r="3.2" fill="#000"/>
<circle cx="1149.20" cy="820.40" r="3.2" fill="#000"/>
<circle cx="1150.40" cy="819.20" r="3.2" fill="#000"/>
<circle cx="1156.20" cy="829.40" r="3.2" fill="#000"/>
<circle cx="1158.00" cy="820.00" r="3.2" fill="#000"/>
<circle cx="1160.20" cy="813.00" r="3.2" fill="#000"/>
<circle cx="1166.70" cy="801.80" r="3.2" fill="#000"/>
<circle cx="1166.20" cy="804.70" r="3.2" fill="#000"/>
<circle cx="1167.70" cy="812.20" r="3.2" fill="#000"/>
<circle cx="1170.70" cy="808.00" r="3.2" fill="#000"/>
<circle cx="1178.30" cy="809.50" r="3.2" fill="#000"/>
<circle cx="1183.50" cy="802.50" r="3.2" fill="#000"/>
<circle cx="1190.80" cy="798.80" r="3.2" fill="#000"/>
<circle cx="1191.60" cy="799.80" r="3.2" fill="#000"/>
<circle cx="1199.90" cy="802.10" r="3.2" fill="#000"/>
<circle cx="1204.40" cy="788.30" r="3.2" fill="#000"/>
<circle cx="1211.00" cy="783.90" r="3.2" fill="#000"/>
<circle cx="1209.90" cy="791.80" r="3.2" fill="#000"/>
<circle cx="1206.90" cy="795.50" r="3.2" fill="#000"/>
<circle cx="1244.20" cy="773.40" r="3.2" fill="#000"/>
<circle cx="1259.60" cy="768.50" r="3.2" fill="#000"/>
<circle cx="1480.60" cy="610.90" r="3.2" fill="#000"/>
<circle cx="1485.10" cy="645.90" r="3.2" fill="#000"/>
<circle cx="1484.30" cy="652.40" r="3.2" fill="#000"/>
<circle cx="1428.10" cy="658.60" r="3.2" fill="#000"/>
<circle cx="1362.50" cy="695.20" r="3.2" fill="#000"/>
<circle cx="1323.00" cy="712.60" r="3.2" fill="#000"/>
<circle cx="1296.10" cy="735.70" r="3.2" fill="#000"/>
<circle cx="1345.30" cy="741.00" r="3.2" fill="#000"/>
<text x="1293.83" y="798.60" font-size="26" text-anchor="start" fill="#000" transform="matrix(1 0 0 1.0850 0 -67.881)">Y = 0.9954*X - 1.877</text>
<text x="1354.17" y="836.30" font-size="26" text-anchor="start" fill="#000" transform="matrix(1 0 0 1.0850 0 -71.085)">R²=0.9760</text>
<text x="7.03" y="1008.20" font-size="34" font-weight="bold" text-anchor="start" fill="#000">E</text>
<line x1="99.20" y1="1036.20" x2="114.80" y2="1036.20" stroke="#000" stroke-width="3.3" stroke-linecap="butt"/>
<text x="95.51" y="1046.17" font-size="27" font-weight="bold" text-anchor="end" fill="#000" transform="matrix(1 0 0 0.9800 0 20.923)">40</text>
<line x1="99.20" y1="1126.00" x2="114.80" y2="1126.00" stroke="#000" stroke-width="3.3" stroke-linecap="butt"/>
<text x="95.51" y="1135.97" font-size="27" font-weight="bold" text-anchor="end" fill="#000" transform="matrix(1 0 0 0.9800 0 22.719)">20</text>
<line x1="99.20" y1="1215.80" x2="114.80" y2="1215.80" stroke="#000" stroke-width="3.3" stroke-linecap="butt"/>
<text x="95.51" y="1225.77" font-size="27" font-weight="bold" text-anchor="end" fill="#000" transform="matrix(1 0 0 0.9800 0 24.515)">0</text>
<line x1="99.20" y1="1304.80" x2="114.80" y2="1304.80" stroke="#000" stroke-width="3.3" stroke-linecap="butt"/>
<text x="95.51" y="1314.77" font-size="27" font-weight="bold" text-anchor="end" fill="#000" transform="matrix(1 0 0 0.9800 0 26.295)">-20</text>
<line x1="99.20" y1="1394.40" x2="114.80" y2="1394.40" stroke="#000" stroke-width="3.3" stroke-linecap="butt"/>
<text x="95.51" y="1404.37" font-size="27" font-weight="bold" text-anchor="end" fill="#000" transform="matrix(1 0 0 0.9800 0 28.087)">-40</text>
<line x1="106.60" y1="1081.10" x2="114.80" y2="1081.10" stroke="#000" stroke-width="3.3" stroke-linecap="butt"/>
<line x1="106.60" y1="1170.90" x2="114.80" y2="1170.90" stroke="#000" stroke-width="3.3" stroke-linecap="butt"/>
<line x1="106.60" y1="1260.30" x2="114.80" y2="1260.30" stroke="#000" stroke-width="3.3" stroke-linecap="butt"/>
<line x1="106.60" y1="1349.60" x2="114.80" y2="1349.60" stroke="#000" stroke-width="3.3" stroke-linecap="butt"/>
<line x1="114.80" y1="1034.55" x2="114.80" y2="1396.05" stroke="#000" stroke-width="4" stroke-linecap="butt"/>
<line x1="113.20" y1="1215.80" x2="653.35" y2="1215.80" stroke="#000" stroke-width="3.2" stroke-linecap="butt"/>
<line x1="294.10" y1="1215.80" x2="294.10" y2="1230.80" stroke="#000" stroke-width="3.5" stroke-linecap="butt"/>
<text x="294.24" y="1260.20" font-size="27" font-weight="bold" text-anchor="middle" fill="#000" transform="matrix(1 0 0 0.9800 0 25.204)">50</text>
<line x1="473.50" y1="1215.80" x2="473.50" y2="1230.80" stroke="#000" stroke-width="3.5" stroke-linecap="butt"/>
<text x="473.20" y="1260.20" font-size="27" font-weight="bold" text-anchor="middle" fill="#000" transform="matrix(1 0 0 0.9800 0 25.204)">100</text>
<line x1="651.60" y1="1215.80" x2="651.60" y2="1230.80" stroke="#000" stroke-width="3.5" stroke-linecap="butt"/>
<text x="651.30" y="1260.20" font-size="27" font-weight="bold" text-anchor="middle" fill="#000" transform="matrix(1 0 0 0.9800 0 25.204)">150</text>
<line x1="204.40" y1="1215.80" x2="204.40" y2="1224.40" stroke="#000" stroke-width="3.5" stroke-linecap="butt"/>
<line x1="383.90" y1="1215.80" x2="383.90" y2="1224.40" stroke="#000" stroke-width="3.5" stroke-linecap="butt"/>
<line x1="562.60" y1="1215.80" x2="562.60" y2="1224.40" stroke="#000" stroke-width="3.5" stroke-linecap="butt"/>
<path d="M125.00 1113.20h0M135.76 1113.20h0M146.53 1113.20h0M157.29 1113.20h0M168.05 1113.20h0M178.81 1113.20h0M189.57 1113.20h0M200.34 1113.20h0M211.10 1113.20h0M221.86 1113.20h0M232.62 1113.20h0M243.39 1113.20h0M254.15 1113.20h0M264.91 1113.20h0M275.68 1113.20h0M286.44 1113.20h0M297.20 1113.20h0M307.96 1113.20h0M318.73 1113.20h0M329.49 1113.20h0M340.25 1113.20h0M351.01 1113.20h0M361.78 1113.20h0M372.54 1113.20h0M383.30 1113.20h0M394.06 1113.20h0M404.83 1113.20h0M415.59 1113.20h0M426.35 1113.20h0M437.11 1113.20h0M447.88 1113.20h0M458.64 1113.20h0M469.40 1113.20h0M480.16 1113.20h0M490.93 1113.20h0M501.69 1113.20h0M512.45 1113.20h0M523.21 1113.20h0M533.98 1113.20h0M544.74 1113.20h0M555.50 1113.20h0M566.26 1113.20h0M577.03 1113.20h0M587.79 1113.20h0M598.55 1113.20h0M609.31 1113.20h0M620.08 1113.20h0M630.84 1113.20h0M641.60 1113.20h0" stroke="#000" stroke-width="3.4" stroke-linecap="round" fill="none"/>
<path d="M125.00 1196.80h0M135.76 1196.80h0M146.53 1196.80h0M157.29 1196.80h0M168.05 1196.80h0M178.81 1196.80h0M189.57 1196.80h0M200.34 1196.80h0M211.10 1196.80h0M221.86 1196.80h0M232.62 1196.80h0M243.39 1196.80h0M254.15 1196.80h0M264.91 1196.80h0M275.68 1196.80h0M286.44 1196.80h0M297.20 1196.80h0M307.96 1196.80h0M318.73 1196.80h0M329.49 1196.80h0M340.25 1196.80h0M351.01 1196.80h0M361.78 1196.80h0M372.54 1196.80h0M383.30 1196.80h0M394.06 1196.80h0M404.83 1196.80h0M415.59 1196.80h0M426.35 1196.80h0M437.11 1196.80h0M447.88 1196.80h0M458.64 1196.80h0M469.40 1196.80h0M480.16 1196.80h0M490.93 1196.80h0M501.69 1196.80h0M512.45 1196.80h0M523.21 1196.80h0M533.98 1196.80h0M544.74 1196.80h0M555.50 1196.80h0M566.26 1196.80h0M577.03 1196.80h0M587.79 1196.80h0M598.55 1196.80h0M609.31 1196.80h0M620.08 1196.80h0M630.84 1196.80h0M641.60 1196.80h0" stroke="#ff1a1a" stroke-width="3.4" stroke-linecap="round" fill="none"/>
<path d="M125.00 1280.70h0M135.76 1280.70h0M146.53 1280.70h0M157.29 1280.70h0M168.05 1280.70h0M178.81 1280.70h0M189.57 1280.70h0M200.34 1280.70h0M211.10 1280.70h0M221.86 1280.70h0M232.62 1280.70h0M243.39 1280.70h0M254.15 1280.70h0M264.91 1280.70h0M275.68 1280.70h0M286.44 1280.70h0M297.20 1280.70h0M307.96 1280.70h0M318.73 1280.70h0M329.49 1280.70h0M340.25 1280.70h0M351.01 1280.70h0M361.78 1280.70h0M372.54 1280.70h0M383.30 1280.70h0M394.06 1280.70h0M404.83 1280.70h0M415.59 1280.70h0M426.35 1280.70h0M437.11 1280.70h0M447.88 1280.70h0M458.64 1280.70h0M469.40 1280.70h0M480.16 1280.70h0M490.93 1280.70h0M501.69 1280.70h0M512.45 1280.70h0M523.21 1280.70h0M533.98 1280.70h0M544.74 1280.70h0M555.50 1280.70h0M566.26 1280.70h0M577.03 1280.70h0M587.79 1280.70h0M598.55 1280.70h0M609.31 1280.70h0M620.08 1280.70h0M630.84 1280.70h0M641.60 1280.70h0" stroke="#000" stroke-width="3.4" stroke-linecap="round" fill="none"/>
<text x="570.36" y="1102.40" font-size="29.5" text-anchor="start" fill="#000" transform="matrix(1 0 0 1.0350 0 -38.584)">+1.96SD</text>
<text x="693.52" y="1102.40" font-size="29.5" text-anchor="start" fill="#3a3aff" transform="matrix(1 0 0 1.0350 0 -38.584)">23.1</text>
<text x="603.38" y="1186.60" font-size="29.5" text-anchor="start" fill="#000" transform="matrix(1 0 0 1.0350 0 -41.531)">Mean</text>
<text x="702.32" y="1186.60" font-size="29.5" text-anchor="start" fill="#3a3aff" transform="matrix(1 0 0 1.0350 0 -41.531)">4.3</text>
<text x="565.49" y="1316.20" font-size="29.5" text-anchor="start" fill="#000" transform="matrix(1 0 0 1.0350 0 -46.067)">-1.96SD</text>
<text x="681.29" y="1316.20" font-size="29.5" text-anchor="start" fill="#3a3aff" transform="matrix(1 0 0 1.0350 0 -46.067)">-14.4</text>
<text x="189.97" y="1412.20" font-size="29.3" font-weight="bold" text-anchor="start" fill="#000" transform="matrix(1 0 0 0.9500 0 70.610)">Average SV by CSRT2CH_AL</text>
<text x="189.84" y="1446.20" font-size="29.3" font-weight="bold" text-anchor="start" fill="#000" transform="matrix(1 0 0 0.9500 0 72.310)">and SegSA_Simpson, ml</text>
<text x="41.50" y="1214.94" font-size="28.4" font-weight="bold" text-anchor="middle" fill="#000" transform="rotate(-90 41.50 1214.94) matrix(1 0 0 1.0400 0 -48.598)">Difference,   ml</text>
<circle cx="311.80" cy="1157.50" r="3.5" fill="#3a3aff"/>
<circle cx="330.80" cy="1155.80" r="3.5" fill="#3a3aff"/>
<circle cx="331.70" cy="1178.40" r="3.5" fill="#3a3aff"/>
<circle cx="328.30" cy="1196.10" r="3.5" fill="#3a3aff"/>
<circle cx="361.20" cy="1170.50" r="3.5" fill="#3a3aff"/>
<circle cx="400.40" cy="1170.50" r="3.5" fill="#3a3aff"/>
<circle cx="397.40" cy="1181.90" r="3.5" fill="#3a3aff"/>
<circle cx="384.80" cy="1186.80" r="3.5" fill="#3a3aff"/>
<circle cx="378.50" cy="1196.60" r="3.5" fill="#3a3aff"/>
<circle cx="441.60" cy="1166.60" r="3.5" fill="#3a3aff"/>
<circle cx="443.30" cy="1174.20" r="3.5" fill="#3a3aff"/>
<circle cx="443.80" cy="1186.80" r="3.5" fill="#3a3aff"/>
<circle cx="455.60" cy="1192.40" r="3.5" fill="#3a3aff"/>
<circle cx="436.50" cy="1195.80" r="3.5" fill="#3a3aff"/>
<circle cx="440.40" cy="1205.90" r="3.5" fill="#3a3aff"/>
<circle cx="436.70" cy="1215.10" r="3.5" fill="#3a3aff"/>
<circle cx="452.70" cy="1132.50" r="3.5" fill="#3a3aff"/>
<circle cx="515.40" cy="1160.70" r="3.5" fill="#3a3aff"/>
<circle cx="508.70" cy="1194.10" r="3.5" fill="#3a3aff"/>
<circle cx="348.20" cy="1216.00" r="3.5" fill="#3a3aff"/>
<circle cx="369.30" cy="1224.80" r="3.5" fill="#3a3aff"/>
<circle cx="369.30" cy="1227.80" r="3.5" fill="#3a3aff"/>
<circle cx="291.50" cy="1228.10" r="3.5" fill="#3a3aff"/>
<circle cx="429.80" cy="1232.90" r="3.5" fill="#3a3aff"/>
<circle cx="348.90" cy="1243.50" r="3.5" fill="#3a3aff"/>
<circle cx="415.50" cy="1246.00" r="3.5" fill="#3a3aff"/>
<circle cx="377.50" cy="1256.10" r="3.5" fill="#3a3aff"/>
<circle cx="428.90" cy="1263.20" r="3.5" fill="#3a3aff"/>
<circle cx="490.10" cy="1245.20" r="3.5" fill="#3a3aff"/>
<circle cx="351.90" cy="1302.00" r="3.5" fill="#3a3aff"/>
<circle cx="548.10" cy="1083.20" r="3.5" fill="#3a3aff"/>
<circle cx="566.30" cy="1148.00" r="3.5" fill="#3a3aff"/>
<circle cx="545.40" cy="1154.90" r="3.5" fill="#3a3aff"/>
<circle cx="532.70" cy="1171.10" r="3.5" fill="#3a3aff"/>
<circle cx="529.90" cy="1174.70" r="3.5" fill="#3a3aff"/>
<circle cx="537.70" cy="1250.60" r="3.5" fill="#3a3aff"/>
<text x="924.73" y="1007.80" font-size="34" font-weight="bold" text-anchor="start" fill="#000">F</text>
<line x1="1028.50" y1="1382.00" x2="1042.00" y2="1382.00" stroke="#000" stroke-width="3" stroke-linecap="butt"/>
<text x="1024.12" y="1391.18" font-size="24.8" font-weight="bold" text-anchor="end" fill="#000" transform="matrix(1 0 0 1.0200 0 -27.824)">0</text>
<line x1="1028.50" y1="1270.90" x2="1042.00" y2="1270.90" stroke="#000" stroke-width="3" stroke-linecap="butt"/>
<text x="1024.12" y="1280.08" font-size="24.8" font-weight="bold" text-anchor="end" fill="#000" transform="matrix(1 0 0 1.0200 0 -25.602)">50</text>
<line x1="1028.50" y1="1159.80" x2="1042.00" y2="1159.80" stroke="#000" stroke-width="3" stroke-linecap="butt"/>
<text x="1024.12" y="1168.98" font-size="24.8" font-weight="bold" text-anchor="end" fill="#000" transform="matrix(1 0 0 1.0200 0 -23.380)">100</text>
<line x1="1028.50" y1="1048.70" x2="1042.00" y2="1048.70" stroke="#000" stroke-width="3" stroke-linecap="butt"/>
<text x="1024.12" y="1057.88" font-size="24.8" font-weight="bold" text-anchor="end" fill="#000" transform="matrix(1 0 0 1.0200 0 -21.158)">150</text>
<line x1="1042.00" y1="1047.20" x2="1042.00" y2="1383.50" stroke="#000" stroke-width="3" stroke-linecap="butt"/>
<line x1="1040.50" y1="1382.00" x2="1542.30" y2="1382.00" stroke="#000" stroke-width="3" stroke-linecap="butt"/>
<line x1="1041.70" y1="1382.00" x2="1041.70" y2="1394.00" stroke="#000" stroke-width="3" stroke-linecap="butt"/>
<text x="1041.72" y="1422.80" font-size="24.8" font-weight="bold" text-anchor="middle" fill="#000" transform="matrix(1 0 0 1.0200 0 -28.456)">0</text>
<line x1="1208.40" y1="1382.00" x2="1208.40" y2="1394.00" stroke="#000" stroke-width="3" stroke-linecap="butt"/>
<text x="1208.53" y="1422.80" font-size="24.8" font-weight="bold" text-anchor="middle" fill="#000" transform="matrix(1 0 0 1.0200 0 -28.456)">50</text>
<line x1="1374.80" y1="1382.00" x2="1374.80" y2="1394.00" stroke="#000" stroke-width="3" stroke-linecap="butt"/>
<text x="1374.53" y="1422.80" font-size="24.8" font-weight="bold" text-anchor="middle" fill="#000" transform="matrix(1 0 0 1.0200 0 -28.456)">100</text>
<line x1="1540.80" y1="1382.00" x2="1540.80" y2="1394.00" stroke="#000" stroke-width="3" stroke-linecap="butt"/>
<text x="1540.53" y="1422.80" font-size="24.8" font-weight="bold" text-anchor="middle" fill="#000" transform="matrix(1 0 0 1.0200 0 -28.456)">150</text>
<text x="1292.07" y="1464.60" font-size="27.2" font-weight="bold" text-anchor="middle" fill="#000" transform="matrix(1 0 0 1.0500 0 -73.230)">SV by SegSA_Simpson, ml</text>
<text x="968.00" y="1213.43" font-size="27.3" font-weight="bold" text-anchor="middle" fill="#000" transform="rotate(-90 968.00 1213.43) matrix(1 0 0 1.0400 0 -48.537)">SV by CSRT2CH_AL, ml</text>
<line x1="1203.10" y1="1268.70" x2="1446.50" y2="1098.20" stroke="#3a3aff" stroke-width="3" stroke-linecap="butt"/>
<circle cx="1394.50" cy="1081.00" r="3.5" fill="#000"/>
<circle cx="1435.50" cy="1085.70" r="3.5" fill="#000"/>
<circle cx="1418.90" cy="1100.60" r="3.5" fill="#000"/>
<circle cx="1412.70" cy="1112.50" r="3.5" fill="#000"/>
<circle cx="1411.50" cy="1114.60" r="3.5" fill="#000"/>
<circle cx="1393.10" cy="1120.40" r="3.5" fill="#000"/>
<circle cx="1398.90" cy="1132.70" r="3.5" fill="#000"/>
<circle cx="1446.90" cy="1129.20" r="3.5" fill="#000"/>
<circle cx="1401.30" cy="1156.80" r="3.5" fill="#000"/>
<circle cx="1324.30" cy="1152.30" r="3.5" fill="#000"/>
<circle cx="1349.30" cy="1165.10" r="3.5" fill="#000"/>
<circle cx="1326.90" cy="1167.70" r="3.5" fill="#000"/>
<circle cx="1331.50" cy="1168.20" r="3.5" fill="#000"/>
<circle cx="1336.60" cy="1171.20" r="3.5" fill="#000"/>
<circle cx="1340.20" cy="1177.70" r="3.5" fill="#000"/>
<circle cx="1332.70" cy="1178.20" r="3.5" fill="#000"/>
<circle cx="1340.60" cy="1182.20" r="3.5" fill="#000"/>
<circle cx="1340.20" cy="1191.30" r="3.5" fill="#000"/>
<circle cx="1350.60" cy="1199.20" r="3.5" fill="#000"/>
<circle cx="1332.20" cy="1203.60" r="3.5" fill="#000"/>
<circle cx="1290.20" cy="1194.00" r="3.5" fill="#000"/>
<circle cx="1291.60" cy="1198.70" r="3.5" fill="#000"/>
<circle cx="1281.40" cy="1208.00" r="3.5" fill="#000"/>
<circle cx="1279.30" cy="1214.10" r="3.5" fill="#000"/>
<circle cx="1253.90" cy="1218.10" r="3.5" fill="#000"/>
<circle cx="1282.30" cy="1227.20" r="3.5" fill="#000"/>
<circle cx="1300.70" cy="1229.50" r="3.5" fill="#000"/>
<circle cx="1258.80" cy="1237.70" r="3.5" fill="#000"/>
<circle cx="1269.10" cy="1244.20" r="3.5" fill="#000"/>
<circle cx="1294.20" cy="1257.00" r="3.5" fill="#000"/>
<circle cx="1220.10" cy="1233.40" r="3.5" fill="#000"/>
<circle cx="1228.90" cy="1238.60" r="3.5" fill="#000"/>
<circle cx="1232.60" cy="1244.70" r="3.5" fill="#000"/>
<circle cx="1202.80" cy="1245.30" r="3.5" fill="#000"/>
<circle cx="1210.50" cy="1275.90" r="3.5" fill="#000"/>
<text x="1306.80" y="1303.40" font-size="27.4" text-anchor="start" fill="#000" transform="matrix(1 0 0 1.0850 0 -110.789)">Y = 1.053*X - 0.1701</text>
<text x="1345.85" y="1343.00" font-size="27.4" text-anchor="start" fill="#000" transform="matrix(1 0 0 1.0850 0 -114.155)">R²=0.8309</text>
<text x="7.01" y="1537.50" font-size="34" font-weight="bold" text-anchor="start" fill="#000">G</text>
<line x1="98.30" y1="1553.60" x2="111.50" y2="1553.60" stroke="#000" stroke-width="3" stroke-linecap="butt"/>
<text x="94.43" y="1562.85" font-size="25" font-weight="bold" text-anchor="end" fill="#000" transform="matrix(1 0 0 1.0200 0 -31.257)">10</text>
<line x1="98.30" y1="1662.00" x2="111.50" y2="1662.00" stroke="#000" stroke-width="3" stroke-linecap="butt"/>
<text x="94.10" y="1671.25" font-size="25" font-weight="bold" text-anchor="end" fill="#000" transform="matrix(1 0 0 1.0200 0 -33.425)">5</text>
<line x1="98.30" y1="1770.50" x2="111.50" y2="1770.50" stroke="#000" stroke-width="3" stroke-linecap="butt"/>
<text x="94.43" y="1779.75" font-size="25" font-weight="bold" text-anchor="end" fill="#000" transform="matrix(1 0 0 1.0200 0 -35.595)">0</text>
<line x1="98.30" y1="1879.50" x2="111.50" y2="1879.50" stroke="#000" stroke-width="3" stroke-linecap="butt"/>
<text x="94.10" y="1888.75" font-size="25" font-weight="bold" text-anchor="end" fill="#000" transform="matrix(1 0 0 1.0200 0 -37.775)">-5</text>
<line x1="111.50" y1="1552.10" x2="111.50" y2="1881.00" stroke="#000" stroke-width="3" stroke-linecap="butt"/>
<line x1="110.00" y1="1770.50" x2="601.70" y2="1770.50" stroke="#000" stroke-width="3" stroke-linecap="butt"/>
<line x1="208.90" y1="1770.50" x2="208.90" y2="1784.50" stroke="#000" stroke-width="3" stroke-linecap="butt"/>
<text x="208.98" y="1811.50" font-size="25" font-weight="bold" text-anchor="middle" fill="#000" transform="matrix(1 0 0 1.0200 0 -36.230)">20</text>
<line x1="306.70" y1="1770.50" x2="306.70" y2="1784.50" stroke="#000" stroke-width="3" stroke-linecap="butt"/>
<text x="307.02" y="1811.50" font-size="25" font-weight="bold" text-anchor="middle" fill="#000" transform="matrix(1 0 0 1.0200 0 -36.230)">40</text>
<line x1="404.50" y1="1770.50" x2="404.50" y2="1784.50" stroke="#000" stroke-width="3" stroke-linecap="butt"/>
<text x="404.55" y="1811.50" font-size="25" font-weight="bold" text-anchor="middle" fill="#000" transform="matrix(1 0 0 1.0200 0 -36.230)">60</text>
<line x1="503.00" y1="1770.50" x2="503.00" y2="1784.50" stroke="#000" stroke-width="3" stroke-linecap="butt"/>
<text x="503.12" y="1811.50" font-size="25" font-weight="bold" text-anchor="middle" fill="#000" transform="matrix(1 0 0 1.0200 0 -36.230)">80</text>
<line x1="600.20" y1="1770.50" x2="600.20" y2="1784.50" stroke="#000" stroke-width="3" stroke-linecap="butt"/>
<text x="599.93" y="1811.50" font-size="25" font-weight="bold" text-anchor="middle" fill="#000" transform="matrix(1 0 0 1.0200 0 -36.230)">100</text>
<path d="M120.00 1607.20h0M129.82 1607.20h0M139.65 1607.20h0M149.47 1607.20h0M159.30 1607.20h0M169.12 1607.20h0M178.95 1607.20h0M188.78 1607.20h0M198.60 1607.20h0M208.43 1607.20h0M218.25 1607.20h0M228.08 1607.20h0M237.90 1607.20h0M247.73 1607.20h0M257.55 1607.20h0M267.38 1607.20h0M277.20 1607.20h0M287.02 1607.20h0M296.85 1607.20h0M306.68 1607.20h0M316.50 1607.20h0M326.33 1607.20h0M336.15 1607.20h0M345.98 1607.20h0M355.80 1607.20h0M365.62 1607.20h0M375.45 1607.20h0M385.28 1607.20h0M395.10 1607.20h0M404.93 1607.20h0M414.75 1607.20h0M424.58 1607.20h0M434.40 1607.20h0M444.23 1607.20h0M454.05 1607.20h0M463.88 1607.20h0M473.70 1607.20h0M483.53 1607.20h0M493.35 1607.20h0M503.18 1607.20h0M513.00 1607.20h0M522.83 1607.20h0M532.65 1607.20h0M542.48 1607.20h0M552.30 1607.20h0M562.12 1607.20h0M571.95 1607.20h0M581.78 1607.20h0M591.60 1607.20h0" stroke="#000" stroke-width="3.4" stroke-linecap="round" fill="none"/>
<path d="M120.00 1730.20h0M129.82 1730.20h0M139.65 1730.20h0M149.47 1730.20h0M159.30 1730.20h0M169.12 1730.20h0M178.95 1730.20h0M188.78 1730.20h0M198.60 1730.20h0M208.43 1730.20h0M218.25 1730.20h0M228.08 1730.20h0M237.90 1730.20h0M247.73 1730.20h0M257.55 1730.20h0M267.38 1730.20h0M277.20 1730.20h0M287.02 1730.20h0M296.85 1730.20h0M306.68 1730.20h0M316.50 1730.20h0M326.33 1730.20h0M336.15 1730.20h0M345.98 1730.20h0M355.80 1730.20h0M365.62 1730.20h0M375.45 1730.20h0M385.28 1730.20h0M395.10 1730.20h0M404.93 1730.20h0M414.75 1730.20h0M424.58 1730.20h0M434.40 1730.20h0M444.23 1730.20h0M454.05 1730.20h0M463.88 1730.20h0M473.70 1730.20h0M483.53 1730.20h0M493.35 1730.20h0M503.18 1730.20h0M513.00 1730.20h0M522.83 1730.20h0M532.65 1730.20h0M542.48 1730.20h0M552.30 1730.20h0M562.12 1730.20h0M571.95 1730.20h0M581.78 1730.20h0M591.60 1730.20h0" stroke="#ff1a1a" stroke-width="3.4" stroke-linecap="round" fill="none"/>
<path d="M120.00 1852.50h0M129.82 1852.50h0M139.65 1852.50h0M149.47 1852.50h0M159.30 1852.50h0M169.12 1852.50h0M178.95 1852.50h0M188.78 1852.50h0M198.60 1852.50h0M208.43 1852.50h0M218.25 1852.50h0M228.08 1852.50h0M237.90 1852.50h0M247.73 1852.50h0M257.55 1852.50h0M267.38 1852.50h0M277.20 1852.50h0M287.02 1852.50h0M296.85 1852.50h0M306.68 1852.50h0M316.50 1852.50h0M326.33 1852.50h0M336.15 1852.50h0M345.98 1852.50h0M355.80 1852.50h0M365.62 1852.50h0M375.45 1852.50h0M385.28 1852.50h0M395.10 1852.50h0M404.93 1852.50h0M414.75 1852.50h0M424.58 1852.50h0M434.40 1852.50h0M444.23 1852.50h0M454.05 1852.50h0M463.88 1852.50h0M473.70 1852.50h0M483.53 1852.50h0M493.35 1852.50h0M503.18 1852.50h0M513.00 1852.50h0M522.83 1852.50h0M532.65 1852.50h0M542.48 1852.50h0M552.30 1852.50h0M562.12 1852.50h0M571.95 1852.50h0M581.78 1852.50h0M591.60 1852.50h0" stroke="#000" stroke-width="3.4" stroke-linecap="round" fill="none"/>
<text x="498.88" y="1599.60" font-size="27" text-anchor="start" fill="#000" transform="matrix(1 0 0 1.0800 0 -127.968)">+1.96SD</text>
<text x="611.52" y="1599.60" font-size="27" text-anchor="start" fill="#3a3aff" transform="matrix(1 0 0 1.0800 0 -127.968)">7.5</text>
<text x="527.05" y="1717.90" font-size="26.2" text-anchor="start" fill="#000" transform="matrix(1 0 0 1.0800 0 -137.432)">Mean</text>
<text x="616.84" y="1717.90" font-size="27" text-anchor="start" fill="#3a3aff" transform="matrix(1 0 0 1.0800 0 -137.432)">1.9</text>
<text x="505.40" y="1877.50" font-size="27" text-anchor="start" fill="#000" transform="matrix(1 0 0 1.0800 0 -150.200)">-1.96SD</text>
<text x="611.40" y="1877.50" font-size="27" text-anchor="start" fill="#3a3aff" transform="matrix(1 0 0 1.0800 0 -150.200)">-3.8</text>
<text x="170.14" y="1939.60" font-size="26.7" font-weight="bold" text-anchor="start" fill="#000" transform="matrix(1 0 0 1.0800 0 -155.168)">Average EF by CSRT2CH_AL</text>
<text x="170.02" y="1970.30" font-size="26.7" font-weight="bold" text-anchor="start" fill="#000" transform="matrix(1 0 0 1.0800 0 -157.624)">and SegSA_Simpson, %</text>
<text x="51.40" y="1715.86" font-size="27.5" font-weight="bold" text-anchor="middle" fill="#000" transform="rotate(-90 51.40 1715.86) matrix(1 0 0 1.0400 0 -68.634)">Difference, %</text>
<circle cx="290.30" cy="1628.00" r="3.4" fill="#3a3aff"/>
<circle cx="221.50" cy="1651.60" r="3.4" fill="#3a3aff"/>
<circle cx="328.60" cy="1645.40" r="3.4" fill="#3a3aff"/>
<circle cx="328.30" cy="1651.80" r="3.4" fill="#3a3aff"/>
<circle cx="416.40" cy="1651.60" r="3.4" fill="#3a3aff"/>
<circle cx="419.00" cy="1658.40" r="3.4" fill="#3a3aff"/>
<circle cx="383.90" cy="1669.00" r="3.4" fill="#3a3aff"/>
<circle cx="422.30" cy="1688.70" r="3.4" fill="#3a3aff"/>
<circle cx="419.30" cy="1691.30" r="3.4" fill="#3a3aff"/>
<circle cx="400.40" cy="1706.10" r="3.4" fill="#3a3aff"/>
<circle cx="412.10" cy="1714.50" r="3.4" fill="#3a3aff"/>
<circle cx="414.60" cy="1716.70" r="3.4" fill="#3a3aff"/>
<circle cx="306.30" cy="1723.50" r="3.4" fill="#3a3aff"/>
<circle cx="377.20" cy="1723.50" r="3.4" fill="#3a3aff"/>
<circle cx="378.00" cy="1734.80" r="3.4" fill="#3a3aff"/>
<circle cx="429.10" cy="1732.20" r="3.4" fill="#3a3aff"/>
<circle cx="261.70" cy="1741.00" r="3.4" fill="#3a3aff"/>
<circle cx="404.60" cy="1752.10" r="3.4" fill="#3a3aff"/>
<circle cx="420.10" cy="1749.40" r="3.4" fill="#3a3aff"/>
<circle cx="324.40" cy="1766.80" r="3.4" fill="#3a3aff"/>
<circle cx="427.40" cy="1764.80" r="3.4" fill="#3a3aff"/>
<circle cx="446.30" cy="1777.80" r="3.4" fill="#3a3aff"/>
<circle cx="423.00" cy="1782.00" r="3.4" fill="#3a3aff"/>
<circle cx="419.30" cy="1792.90" r="3.4" fill="#3a3aff"/>
<circle cx="254.60" cy="1799.70" r="3.4" fill="#3a3aff"/>
<circle cx="265.40" cy="1806.10" r="3.4" fill="#3a3aff"/>
<circle cx="429.80" cy="1816.50" r="3.4" fill="#3a3aff"/>
<circle cx="444.30" cy="1830.00" r="3.4" fill="#3a3aff"/>
<circle cx="220.90" cy="1847.20" r="3.4" fill="#3a3aff"/>
<circle cx="448.50" cy="1642.90" r="3.4" fill="#3a3aff"/>
<circle cx="467.90" cy="1834.40" r="3.4" fill="#3a3aff"/>
<circle cx="497.30" cy="1632.10" r="3.4" fill="#3a3aff"/>
<circle cx="466.50" cy="1690.80" r="3.4" fill="#3a3aff"/>
<circle cx="453.00" cy="1726.00" r="3.4" fill="#3a3aff"/>
<circle cx="484.00" cy="1756.10" r="3.4" fill="#3a3aff"/>
<circle cx="468.40" cy="1788.90" r="3.4" fill="#3a3aff"/>
<text x="924.33" y="1537.90" font-size="34" font-weight="bold" text-anchor="start" fill="#000">H</text>
<line x1="1027.30" y1="1886.80" x2="1040.80" y2="1886.80" stroke="#000" stroke-width="3" stroke-linecap="butt"/>
<text x="1023.23" y="1896.12" font-size="25.2" font-weight="bold" text-anchor="end" fill="#000" transform="matrix(1 0 0 1.0200 0 -37.922)">0</text>
<line x1="1027.30" y1="1820.30" x2="1040.80" y2="1820.30" stroke="#000" stroke-width="3" stroke-linecap="butt"/>
<text x="1023.23" y="1829.62" font-size="25.2" font-weight="bold" text-anchor="end" fill="#000" transform="matrix(1 0 0 1.0200 0 -36.592)">20</text>
<line x1="1027.30" y1="1753.80" x2="1040.80" y2="1753.80" stroke="#000" stroke-width="3" stroke-linecap="butt"/>
<text x="1023.23" y="1763.12" font-size="25.2" font-weight="bold" text-anchor="end" fill="#000" transform="matrix(1 0 0 1.0200 0 -35.262)">40</text>
<line x1="1027.30" y1="1687.30" x2="1040.80" y2="1687.30" stroke="#000" stroke-width="3" stroke-linecap="butt"/>
<text x="1023.23" y="1696.62" font-size="25.2" font-weight="bold" text-anchor="end" fill="#000" transform="matrix(1 0 0 1.0200 0 -33.932)">60</text>
<line x1="1027.30" y1="1620.90" x2="1040.80" y2="1620.90" stroke="#000" stroke-width="3" stroke-linecap="butt"/>
<text x="1023.23" y="1630.22" font-size="25.2" font-weight="bold" text-anchor="end" fill="#000" transform="matrix(1 0 0 1.0200 0 -32.604)">80</text>
<line x1="1027.30" y1="1554.40" x2="1040.80" y2="1554.40" stroke="#000" stroke-width="3" stroke-linecap="butt"/>
<text x="1023.23" y="1563.72" font-size="25.2" font-weight="bold" text-anchor="end" fill="#000" transform="matrix(1 0 0 1.0200 0 -31.274)">100</text>
<line x1="1040.80" y1="1552.90" x2="1040.80" y2="1888.30" stroke="#000" stroke-width="3" stroke-linecap="butt"/>
<line x1="1039.30" y1="1886.80" x2="1541.30" y2="1886.80" stroke="#000" stroke-width="3" stroke-linecap="butt"/>
<line x1="1040.80" y1="1886.80" x2="1040.80" y2="1901.00" stroke="#000" stroke-width="3" stroke-linecap="butt"/>
<text x="1040.82" y="1928.60" font-size="25.2" font-weight="bold" text-anchor="middle" fill="#000" transform="matrix(1 0 0 1.0200 0 -38.572)">0</text>
<line x1="1165.40" y1="1886.80" x2="1165.40" y2="1901.00" stroke="#000" stroke-width="3" stroke-linecap="butt"/>
<text x="1165.48" y="1928.60" font-size="25.2" font-weight="bold" text-anchor="middle" fill="#000" transform="matrix(1 0 0 1.0200 0 -38.572)">20</text>
<line x1="1290.20" y1="1886.80" x2="1290.20" y2="1901.00" stroke="#000" stroke-width="3" stroke-linecap="butt"/>
<text x="1290.53" y="1928.60" font-size="25.2" font-weight="bold" text-anchor="middle" fill="#000" transform="matrix(1 0 0 1.0200 0 -38.572)">40</text>
<line x1="1414.20" y1="1886.80" x2="1414.20" y2="1901.00" stroke="#000" stroke-width="3" stroke-linecap="butt"/>
<text x="1414.26" y="1928.60" font-size="25.2" font-weight="bold" text-anchor="middle" fill="#000" transform="matrix(1 0 0 1.0200 0 -38.572)">60</text>
<line x1="1539.80" y1="1886.80" x2="1539.80" y2="1901.00" stroke="#000" stroke-width="3" stroke-linecap="butt"/>
<text x="1539.92" y="1928.60" font-size="25.2" font-weight="bold" text-anchor="middle" fill="#000" transform="matrix(1 0 0 1.0200 0 -38.572)">80</text>
<text x="1290.25" y="1970.10" font-size="27.3" font-weight="bold" text-anchor="middle" fill="#000" transform="matrix(1 0 0 1.0500 0 -98.505)">EF by SegSA_Simpson,%</text>
<text x="968.30" y="1720.06" font-size="27.8" font-weight="bold" text-anchor="middle" fill="#000" transform="rotate(-90 968.30 1720.06) matrix(1 0 0 1.0400 0 -68.803)">EF by CSRT2CH_AL, %</text>
<line x1="1164.30" y1="1813.40" x2="1508.90" y2="1629.60" stroke="#3a3aff" stroke-width="3" stroke-linecap="butt"/>
<circle cx="1512.30" cy="1614.50" r="3.4" fill="#000"/>
<circle cx="1513.50" cy="1632.90" r="3.4" fill="#000"/>
<circle cx="1481.80" cy="1640.00" r="3.4" fill="#000"/>
<circle cx="1497.90" cy="1646.20" r="3.4" fill="#000"/>
<circle cx="1504.00" cy="1650.30" r="3.4" fill="#000"/>
<circle cx="1453.10" cy="1647.80" r="3.4" fill="#000"/>
<circle cx="1469.30" cy="1651.70" r="3.4" fill="#000"/>
<circle cx="1468.50" cy="1660.10" r="3.4" fill="#000"/>
<circle cx="1473.60" cy="1665.50" r="3.4" fill="#000"/>
<circle cx="1453.10" cy="1674.50" r="3.4" fill="#000"/>
<circle cx="1440.00" cy="1667.80" r="3.4" fill="#000"/>
<circle cx="1442.40" cy="1672.10" r="3.4" fill="#000"/>
<circle cx="1438.70" cy="1675.80" r="3.4" fill="#000"/>
<circle cx="1436.20" cy="1680.10" r="3.4" fill="#000"/>
<circle cx="1431.10" cy="1675.80" r="3.4" fill="#000"/>
<circle cx="1425.20" cy="1670.00" r="3.4" fill="#000"/>
<circle cx="1417.20" cy="1668.80" r="3.4" fill="#000"/>
<circle cx="1412.20" cy="1670.80" r="3.4" fill="#000"/>
<circle cx="1420.80" cy="1676.60" r="3.4" fill="#000"/>
<circle cx="1415.30" cy="1679.50" r="3.4" fill="#000"/>
<circle cx="1411.60" cy="1686.90" r="3.4" fill="#000"/>
<circle cx="1400.10" cy="1685.90" r="3.4" fill="#000"/>
<circle cx="1373.40" cy="1694.30" r="3.4" fill="#000"/>
<circle cx="1373.40" cy="1703.30" r="3.4" fill="#000"/>
<circle cx="1375.90" cy="1703.70" r="3.4" fill="#000"/>
<circle cx="1164.30" cy="1803.40" r="3.4" fill="#000"/>
<circle cx="1191.40" cy="1818.80" r="3.4" fill="#000"/>
<circle cx="1228.20" cy="1783.00" r="3.4" fill="#000"/>
<circle cx="1227.50" cy="1792.70" r="3.4" fill="#000"/>
<circle cx="1242.00" cy="1785.60" r="3.4" fill="#000"/>
<circle cx="1248.40" cy="1755.20" r="3.4" fill="#000"/>
<circle cx="1282.30" cy="1751.60" r="3.4" fill="#000"/>
<circle cx="1300.10" cy="1730.40" r="3.4" fill="#000"/>
<circle cx="1311.60" cy="1742.50" r="3.4" fill="#000"/>
<text x="1288.89" y="1797.90" font-size="27.7" text-anchor="start" fill="#000" transform="matrix(1 0 0 1.0850 0 -152.821)">Y = 0.9851*X + 2.725</text>
<text x="1374.23" y="1837.20" font-size="27.7" text-anchor="start" fill="#000" transform="matrix(1 0 0 1.0850 0 -156.162)">R²= 0.9659</text>
<text x="7.03" y="2007.50" font-size="34" font-weight="bold" text-anchor="start" fill="#000">I</text>
<line x1="107.10" y1="2047.40" x2="119.20" y2="2047.40" stroke="#000" stroke-width="3" stroke-linecap="butt"/>
<text x="102.72" y="2056.58" font-size="24.8" font-weight="bold" text-anchor="end" fill="#000" transform="matrix(1 0 0 1.0200 0 -41.132)">40</text>
<line x1="107.10" y1="2129.00" x2="119.20" y2="2129.00" stroke="#000" stroke-width="3" stroke-linecap="butt"/>
<text x="102.72" y="2138.18" font-size="24.8" font-weight="bold" text-anchor="end" fill="#000" transform="matrix(1 0 0 1.0200 0 -42.764)">20</text>
<line x1="107.10" y1="2210.50" x2="119.20" y2="2210.50" stroke="#000" stroke-width="3" stroke-linecap="butt"/>
<text x="102.72" y="2219.68" font-size="24.8" font-weight="bold" text-anchor="end" fill="#000" transform="matrix(1 0 0 1.0200 0 -44.394)">0</text>
<line x1="107.10" y1="2292.00" x2="119.20" y2="2292.00" stroke="#000" stroke-width="3" stroke-linecap="butt"/>
<text x="102.72" y="2301.18" font-size="24.8" font-weight="bold" text-anchor="end" fill="#000" transform="matrix(1 0 0 1.0200 0 -46.024)">-20</text>
<line x1="107.10" y1="2373.60" x2="119.20" y2="2373.60" stroke="#000" stroke-width="3" stroke-linecap="butt"/>
<text x="102.72" y="2382.78" font-size="24.8" font-weight="bold" text-anchor="end" fill="#000" transform="matrix(1 0 0 1.0200 0 -47.656)">-40</text>
<line x1="119.20" y1="2045.90" x2="119.20" y2="2375.10" stroke="#000" stroke-width="3" stroke-linecap="butt"/>
<line x1="117.70" y1="2210.50" x2="610.00" y2="2210.50" stroke="#000" stroke-width="3" stroke-linecap="butt"/>
<line x1="282.00" y1="2210.50" x2="282.00" y2="2223.70" stroke="#000" stroke-width="3" stroke-linecap="butt"/>
<text x="281.73" y="2250.80" font-size="24.8" font-weight="bold" text-anchor="middle" fill="#000" transform="matrix(1 0 0 1.0200 0 -45.016)">100</text>
<line x1="446.10" y1="2210.50" x2="446.10" y2="2223.70" stroke="#000" stroke-width="3" stroke-linecap="butt"/>
<text x="446.18" y="2250.80" font-size="24.8" font-weight="bold" text-anchor="middle" fill="#000" transform="matrix(1 0 0 1.0200 0 -45.016)">200</text>
<line x1="608.50" y1="2210.50" x2="608.50" y2="2223.70" stroke="#000" stroke-width="3" stroke-linecap="butt"/>
<text x="608.72" y="2250.80" font-size="24.8" font-weight="bold" text-anchor="middle" fill="#000" transform="matrix(1 0 0 1.0200 0 -45.016)">300</text>
<path d="M129.50 2070.30h0M139.30 2070.30h0M149.10 2070.30h0M158.89 2070.30h0M168.69 2070.30h0M178.49 2070.30h0M188.29 2070.30h0M198.09 2070.30h0M207.88 2070.30h0M217.68 2070.30h0M227.48 2070.30h0M237.28 2070.30h0M247.07 2070.30h0M256.87 2070.30h0M266.67 2070.30h0M276.47 2070.30h0M286.27 2070.30h0M296.06 2070.30h0M305.86 2070.30h0M315.66 2070.30h0M325.46 2070.30h0M335.26 2070.30h0M345.05 2070.30h0M354.85 2070.30h0M364.65 2070.30h0M374.45 2070.30h0M384.25 2070.30h0M394.04 2070.30h0M403.84 2070.30h0M413.64 2070.30h0M423.44 2070.30h0M433.24 2070.30h0M443.03 2070.30h0M452.83 2070.30h0M462.63 2070.30h0M472.43 2070.30h0M482.22 2070.30h0M492.02 2070.30h0M501.82 2070.30h0M511.62 2070.30h0M521.42 2070.30h0M531.21 2070.30h0M541.01 2070.30h0M550.81 2070.30h0M560.61 2070.30h0M570.41 2070.30h0M580.20 2070.30h0M590.00 2070.30h0M599.80 2070.30h0" stroke="#000" stroke-width="3.4" stroke-linecap="round" fill="none"/>
<path d="M129.50 2187.10h0M139.30 2187.10h0M149.10 2187.10h0M158.89 2187.10h0M168.69 2187.10h0M178.49 2187.10h0M188.29 2187.10h0M198.09 2187.10h0M207.88 2187.10h0M217.68 2187.10h0M227.48 2187.10h0M237.28 2187.10h0M247.07 2187.10h0M256.87 2187.10h0M266.67 2187.10h0M276.47 2187.10h0M286.27 2187.10h0M296.06 2187.10h0M305.86 2187.10h0M315.66 2187.10h0M325.46 2187.10h0M335.26 2187.10h0M345.05 2187.10h0M354.85 2187.10h0M364.65 2187.10h0M374.45 2187.10h0M384.25 2187.10h0M394.04 2187.10h0M403.84 2187.10h0M413.64 2187.10h0M423.44 2187.10h0M433.24 2187.10h0M443.03 2187.10h0M452.83 2187.10h0M462.63 2187.10h0M472.43 2187.10h0M482.22 2187.10h0M492.02 2187.10h0M501.82 2187.10h0M511.62 2187.10h0M521.42 2187.10h0M531.21 2187.10h0M541.01 2187.10h0M550.81 2187.10h0M560.61 2187.10h0M570.41 2187.10h0M580.20 2187.10h0M590.00 2187.10h0M599.80 2187.10h0" stroke="#ff1a1a" stroke-width="3.4" stroke-linecap="round" fill="none"/>
<path d="M129.50 2303.30h0M139.30 2303.30h0M149.10 2303.30h0M158.89 2303.30h0M168.69 2303.30h0M178.49 2303.30h0M188.29 2303.30h0M198.09 2303.30h0M207.88 2303.30h0M217.68 2303.30h0M227.48 2303.30h0M237.28 2303.30h0M247.07 2303.30h0M256.87 2303.30h0M266.67 2303.30h0M276.47 2303.30h0M286.27 2303.30h0M296.06 2303.30h0M305.86 2303.30h0M315.66 2303.30h0M325.46 2303.30h0M335.26 2303.30h0M345.05 2303.30h0M354.85 2303.30h0M364.65 2303.30h0M374.45 2303.30h0M384.25 2303.30h0M394.04 2303.30h0M403.84 2303.30h0M413.64 2303.30h0M423.44 2303.30h0M433.24 2303.30h0M443.03 2303.30h0M452.83 2303.30h0M462.63 2303.30h0M472.43 2303.30h0M482.22 2303.30h0M492.02 2303.30h0M501.82 2303.30h0M511.62 2303.30h0M521.42 2303.30h0M531.21 2303.30h0M541.01 2303.30h0M550.81 2303.30h0M560.61 2303.30h0M570.41 2303.30h0M580.20 2303.30h0M590.00 2303.30h0M599.80 2303.30h0" stroke="#000" stroke-width="3.4" stroke-linecap="round" fill="none"/>
<text x="507.28" y="2059.10" font-size="27" text-anchor="start" fill="#000" transform="matrix(1 0 0 1.0770 0 -158.551)">+1.96SD</text>
<text x="620.17" y="2059.10" font-size="27" text-anchor="start" fill="#3a3aff" transform="matrix(1 0 0 1.0770 0 -158.551)">34.44</text>
<text x="535.55" y="2177.50" font-size="26.2" text-anchor="start" fill="#000" transform="matrix(1 0 0 1.0770 0 -167.667)">Mean</text>
<text x="625.02" y="2177.50" font-size="27" text-anchor="start" fill="#3a3aff" transform="matrix(1 0 0 1.0770 0 -167.667)">5.8</text>
<text x="512.80" y="2338.70" font-size="27" text-anchor="start" fill="#000" transform="matrix(1 0 0 1.0770 0 -180.080)">-1.96SD</text>
<text x="619.90" y="2338.70" font-size="27" text-anchor="start" fill="#3a3aff" transform="matrix(1 0 0 1.0770 0 -180.080)">-22.84</text>
<text x="178.64" y="2433.50" font-size="26.6" font-weight="bold" text-anchor="start" fill="#000" transform="matrix(1 0 0 1.0770 0 -187.379)">Average LVM by CSRT2CH_AL</text>
<text x="178.52" y="2464.40" font-size="26.6" font-weight="bold" text-anchor="start" fill="#000" transform="matrix(1 0 0 1.0770 0 -189.759)">and SegSA_Simpson, g</text>
<text x="51.40" y="2210.40" font-size="26.6" font-weight="bold" text-anchor="middle" fill="#000" transform="rotate(-90 51.40 2210.40) matrix(1 0 0 1.0400 0 -88.416)">Difference, g</text>
<circle cx="339.20" cy="2114.30" r="3.4" fill="#3a3aff"/>
<circle cx="247.80" cy="2117.70" r="3.4" fill="#3a3aff"/>
<circle cx="277.20" cy="2119.10" r="3.4" fill="#3a3aff"/>
<circle cx="372.10" cy="2127.50" r="3.4" fill="#3a3aff"/>
<circle cx="251.20" cy="2131.20" r="3.4" fill="#3a3aff"/>
<circle cx="245.60" cy="2133.70" r="3.4" fill="#3a3aff"/>
<circle cx="295.70" cy="2134.60" r="3.4" fill="#3a3aff"/>
<circle cx="292.00" cy="2139.30" r="3.4" fill="#3a3aff"/>
<circle cx="344.80" cy="2135.70" r="3.4" fill="#3a3aff"/>
<circle cx="369.60" cy="2138.30" r="3.4" fill="#3a3aff"/>
<circle cx="254.40" cy="2150.20" r="3.4" fill="#3a3aff"/>
<circle cx="222.90" cy="2165.80" r="3.4" fill="#3a3aff"/>
<circle cx="359.10" cy="2160.20" r="3.4" fill="#3a3aff"/>
<circle cx="401.30" cy="2159.90" r="3.4" fill="#3a3aff"/>
<circle cx="426.90" cy="2166.30" r="3.4" fill="#3a3aff"/>
<circle cx="329.90" cy="2170.50" r="3.4" fill="#3a3aff"/>
<circle cx="292.30" cy="2176.70" r="3.4" fill="#3a3aff"/>
<circle cx="297.10" cy="2182.10" r="3.4" fill="#3a3aff"/>
<circle cx="281.40" cy="2200.70" r="3.4" fill="#3a3aff"/>
<circle cx="296.20" cy="2202.00" r="3.4" fill="#3a3aff"/>
<circle cx="301.30" cy="2203.40" r="3.4" fill="#3a3aff"/>
<circle cx="238.10" cy="2210.10" r="3.4" fill="#3a3aff"/>
<circle cx="332.50" cy="2215.50" r="3.4" fill="#3a3aff"/>
<circle cx="318.10" cy="2226.80" r="3.4" fill="#3a3aff"/>
<circle cx="358.60" cy="2232.40" r="3.4" fill="#3a3aff"/>
<circle cx="261.70" cy="2237.10" r="3.4" fill="#3a3aff"/>
<circle cx="269.60" cy="2243.80" r="3.4" fill="#3a3aff"/>
<circle cx="333.00" cy="2252.60" r="3.4" fill="#3a3aff"/>
<circle cx="204.70" cy="2275.00" r="3.4" fill="#3a3aff"/>
<circle cx="271.40" cy="2286.80" r="3.4" fill="#3a3aff"/>
<circle cx="338.90" cy="2298.10" r="3.4" fill="#3a3aff"/>
<circle cx="280.50" cy="2303.20" r="3.4" fill="#3a3aff"/>
<circle cx="351.50" cy="2320.00" r="3.4" fill="#3a3aff"/>
<circle cx="478.10" cy="2128.60" r="3.4" fill="#3a3aff"/>
<circle cx="498.50" cy="2123.50" r="3.4" fill="#3a3aff"/>
<circle cx="557.50" cy="2152.90" r="3.4" fill="#3a3aff"/>
<text x="924.79" y="2008.00" font-size="34" font-weight="bold" text-anchor="start" fill="#000">J</text>
<line x1="1027.30" y1="2389.00" x2="1040.80" y2="2389.00" stroke="#000" stroke-width="3" stroke-linecap="butt"/>
<text x="1023.22" y="2398.21" font-size="24.9" font-weight="bold" text-anchor="end" fill="#000" transform="matrix(1 0 0 1.0200 0 -47.964)">0</text>
<line x1="1027.30" y1="2278.00" x2="1040.80" y2="2278.00" stroke="#000" stroke-width="3" stroke-linecap="butt"/>
<text x="1023.22" y="2287.21" font-size="24.9" font-weight="bold" text-anchor="end" fill="#000" transform="matrix(1 0 0 1.0200 0 -45.744)">100</text>
<line x1="1027.30" y1="2167.30" x2="1040.80" y2="2167.30" stroke="#000" stroke-width="3" stroke-linecap="butt"/>
<text x="1023.22" y="2176.51" font-size="24.9" font-weight="bold" text-anchor="end" fill="#000" transform="matrix(1 0 0 1.0200 0 -43.530)">200</text>
<line x1="1027.30" y1="2056.80" x2="1040.80" y2="2056.80" stroke="#000" stroke-width="3" stroke-linecap="butt"/>
<text x="1023.22" y="2066.01" font-size="24.9" font-weight="bold" text-anchor="end" fill="#000" transform="matrix(1 0 0 1.0200 0 -41.320)">300</text>
<line x1="1040.80" y1="2055.30" x2="1040.80" y2="2390.50" stroke="#000" stroke-width="3" stroke-linecap="butt"/>
<line x1="1039.30" y1="2389.00" x2="1542.30" y2="2389.00" stroke="#000" stroke-width="3" stroke-linecap="butt"/>
<line x1="1040.70" y1="2389.00" x2="1040.70" y2="2403.00" stroke="#000" stroke-width="3" stroke-linecap="butt"/>
<text x="1040.72" y="2430.80" font-size="24.9" font-weight="bold" text-anchor="middle" fill="#000" transform="matrix(1 0 0 1.0200 0 -48.616)">0</text>
<line x1="1207.40" y1="2389.00" x2="1207.40" y2="2403.00" stroke="#000" stroke-width="3" stroke-linecap="butt"/>
<text x="1207.13" y="2430.80" font-size="24.9" font-weight="bold" text-anchor="middle" fill="#000" transform="matrix(1 0 0 1.0200 0 -48.616)">100</text>
<line x1="1374.10" y1="2389.00" x2="1374.10" y2="2403.00" stroke="#000" stroke-width="3" stroke-linecap="butt"/>
<text x="1374.18" y="2430.80" font-size="24.9" font-weight="bold" text-anchor="middle" fill="#000" transform="matrix(1 0 0 1.0200 0 -48.616)">200</text>
<line x1="1540.80" y1="2389.00" x2="1540.80" y2="2403.00" stroke="#000" stroke-width="3" stroke-linecap="butt"/>
<text x="1541.02" y="2430.80" font-size="24.9" font-weight="bold" text-anchor="middle" fill="#000" transform="matrix(1 0 0 1.0200 0 -48.616)">300</text>
<line x1="1057.37" y1="2389.00" x2="1057.37" y2="2397.60" stroke="#000" stroke-width="3" stroke-linecap="butt"/>
<line x1="1074.04" y1="2389.00" x2="1074.04" y2="2397.60" stroke="#000" stroke-width="3" stroke-linecap="butt"/>
<line x1="1090.71" y1="2389.00" x2="1090.71" y2="2397.60" stroke="#000" stroke-width="3" stroke-linecap="butt"/>
<line x1="1107.38" y1="2389.00" x2="1107.38" y2="2397.60" stroke="#000" stroke-width="3" stroke-linecap="butt"/>
<line x1="1124.05" y1="2389.00" x2="1124.05" y2="2397.60" stroke="#000" stroke-width="3" stroke-linecap="butt"/>
<line x1="1140.72" y1="2389.00" x2="1140.72" y2="2397.60" stroke="#000" stroke-width="3" stroke-linecap="butt"/>
<line x1="1157.39" y1="2389.00" x2="1157.39" y2="2397.60" stroke="#000" stroke-width="3" stroke-linecap="butt"/>
<line x1="1174.06" y1="2389.00" x2="1174.06" y2="2397.60" stroke="#000" stroke-width="3" stroke-linecap="butt"/>
<line x1="1190.73" y1="2389.00" x2="1190.73" y2="2397.60" stroke="#000" stroke-width="3" stroke-linecap="butt"/>
<line x1="1224.07" y1="2389.00" x2="1224.07" y2="2397.60" stroke="#000" stroke-width="3" stroke-linecap="butt"/>
<line x1="1240.74" y1="2389.00" x2="1240.74" y2="2397.60" stroke="#000" stroke-width="3" stroke-linecap="butt"/>
<line x1="1257.41" y1="2389.00" x2="1257.41" y2="2397.60" stroke="#000" stroke-width="3" stroke-linecap="butt"/>
<line x1="1274.08" y1="2389.00" x2="1274.08" y2="2397.60" stroke="#000" stroke-width="3" stroke-linecap="butt"/>
<line x1="1290.75" y1="2389.00" x2="1290.75" y2="2397.60" stroke="#000" stroke-width="3" stroke-linecap="butt"/>
<line x1="1307.42" y1="2389.00" x2="1307.42" y2="2397.60" stroke="#000" stroke-width="3" stroke-linecap="butt"/>
<line x1="1324.09" y1="2389.00" x2="1324.09" y2="2397.60" stroke="#000" stroke-width="3" stroke-linecap="butt"/>
<line x1="1340.76" y1="2389.00" x2="1340.76" y2="2397.60" stroke="#000" stroke-width="3" stroke-linecap="butt"/>
<line x1="1357.43" y1="2389.00" x2="1357.43" y2="2397.60" stroke="#000" stroke-width="3" stroke-linecap="butt"/>
<line x1="1390.77" y1="2389.00" x2="1390.77" y2="2397.60" stroke="#000" stroke-width="3" stroke-linecap="butt"/>
<line x1="1407.44" y1="2389.00" x2="1407.44" y2="2397.60" stroke="#000" stroke-width="3" stroke-linecap="butt"/>
<line x1="1424.11" y1="2389.00" x2="1424.11" y2="2397.60" stroke="#000" stroke-width="3" stroke-linecap="butt"/>
<line x1="1440.78" y1="2389.00" x2="1440.78" y2="2397.60" stroke="#000" stroke-width="3" stroke-linecap="butt"/>
<line x1="1457.45" y1="2389.00" x2="1457.45" y2="2397.60" stroke="#000" stroke-width="3" stroke-linecap="butt"/>
<line x1="1474.12" y1="2389.00" x2="1474.12" y2="2397.60" stroke="#000" stroke-width="3" stroke-linecap="butt"/>
<line x1="1490.79" y1="2389.00" x2="1490.79" y2="2397.60" stroke="#000" stroke-width="3" stroke-linecap="butt"/>
<line x1="1507.46" y1="2389.00" x2="1507.46" y2="2397.60" stroke="#000" stroke-width="3" stroke-linecap="butt"/>
<line x1="1524.13" y1="2389.00" x2="1524.13" y2="2397.60" stroke="#000" stroke-width="3" stroke-linecap="butt"/>
<text x="1291.80" y="2472.40" font-size="27.25" font-weight="bold" text-anchor="middle" fill="#000" transform="matrix(1 0 0 1.0500 0 -123.620)">LVM by SegSA_Simpson, g</text>
<text x="968.30" y="2223.00" font-size="27.35" font-weight="bold" text-anchor="middle" fill="#000" transform="rotate(-90 968.30 2223.00) matrix(1 0 0 1.0400 0 -88.920)">LVM by CSRT2CH_AL, g</text>
<line x1="1136.90" y1="2321.20" x2="1474.40" y2="2090.30" stroke="#3a3aff" stroke-width="3" stroke-linecap="butt"/>
<circle cx="1136.90" cy="2313.40" r="3.5" fill="#000"/>
<circle cx="1141.00" cy="2341.00" r="3.5" fill="#000"/>
<circle cx="1161.80" cy="2309.20" r="3.5" fill="#000"/>
<circle cx="1152.40" cy="2290.00" r="3.5" fill="#000"/>
<circle cx="1153.50" cy="2293.90" r="3.5" fill="#000"/>
<circle cx="1158.70" cy="2289.40" r="3.5" fill="#000"/>
<circle cx="1166.00" cy="2290.40" r="3.5" fill="#000"/>
<circle cx="1182.90" cy="2269.90" r="3.5" fill="#000"/>
<circle cx="1191.10" cy="2297.20" r="3.5" fill="#000"/>
<circle cx="1201.10" cy="2292.00" r="3.5" fill="#000"/>
<circle cx="1211.20" cy="2297.20" r="3.5" fill="#000"/>
<circle cx="1223.50" cy="2293.30" r="3.5" fill="#000"/>
<circle cx="1203.90" cy="2278.80" r="3.5" fill="#000"/>
<circle cx="1204.00" cy="2259.60" r="3.5" fill="#000"/>
<circle cx="1202.40" cy="2262.20" r="3.5" fill="#000"/>
<circle cx="1210.10" cy="2267.70" r="3.5" fill="#000"/>
<circle cx="1216.00" cy="2265.40" r="3.5" fill="#000"/>
<circle cx="1219.60" cy="2268.20" r="3.5" fill="#000"/>
<circle cx="1224.40" cy="2265.70" r="3.5" fill="#000"/>
<circle cx="1245.20" cy="2227.40" r="3.5" fill="#000"/>
<circle cx="1254.90" cy="2226.70" r="3.5" fill="#000"/>
<circle cx="1274.30" cy="2221.00" r="3.5" fill="#000"/>
<circle cx="1288.60" cy="2230.40" r="3.5" fill="#000"/>
<circle cx="1247.10" cy="2241.40" r="3.5" fill="#000"/>
<circle cx="1258.80" cy="2245.90" r="3.5" fill="#000"/>
<circle cx="1266.90" cy="2250.70" r="3.5" fill="#000"/>
<circle cx="1282.10" cy="2252.70" r="3.5" fill="#000"/>
<circle cx="1299.60" cy="2247.20" r="3.5" fill="#000"/>
<circle cx="1246.50" cy="2257.40" r="3.5" fill="#000"/>
<circle cx="1474.70" cy="2084.80" r="3.5" fill="#000"/>
<circle cx="1409.40" cy="2120.20" r="3.5" fill="#000"/>
<circle cx="1389.20" cy="2135.00" r="3.5" fill="#000"/>
<circle cx="1344.90" cy="2175.20" r="3.5" fill="#000"/>
<circle cx="1317.20" cy="2191.50" r="3.5" fill="#000"/>
<circle cx="1281.00" cy="2206.70" r="3.5" fill="#000"/>
<circle cx="1280.50" cy="2210.60" r="3.5" fill="#000"/>
<circle cx="1274.60" cy="2220.20" r="3.5" fill="#000"/>
<circle cx="1288.90" cy="2230.30" r="3.5" fill="#000"/>
<circle cx="1245.10" cy="2227.30" r="3.5" fill="#000"/>
<circle cx="1255.20" cy="2226.60" r="3.5" fill="#000"/>
<text x="1283.59" y="2317.40" font-size="27.6" text-anchor="start" fill="#000" transform="matrix(1 0 0 1.0850 0 -196.979)">Y = 1.028*X + 2.422</text>
<text x="1343.44" y="2350.90" font-size="27.6" text-anchor="start" fill="#000" transform="matrix(1 0 0 1.0850 0 -199.826)">R²=0.9135</text>
</svg>
</body></html>
